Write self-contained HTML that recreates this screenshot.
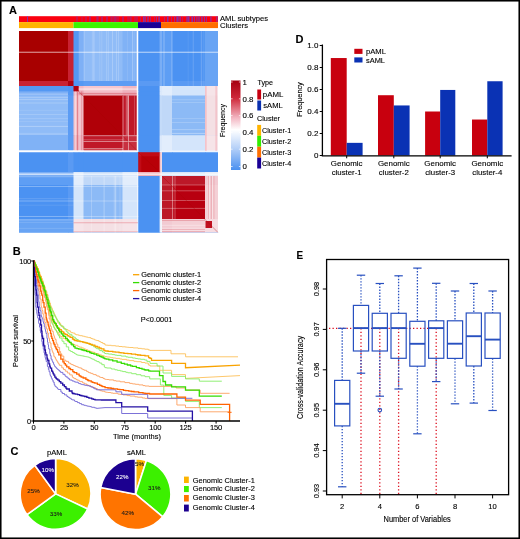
<!DOCTYPE html>
<html><head><meta charset="utf-8"><style>
html,body{margin:0;padding:0;background:#fff;}
svg{display:block;font-family:"Liberation Sans", sans-serif;will-change:transform;}
text{stroke:#000;stroke-width:0.12px;}
text[fill="#fff"]{stroke:#fff;}
</style></head><body>
<svg width="520" height="539" viewBox="0 0 520 539" font-family="'Liberation Sans', sans-serif" fill="#000">
<rect x="0" y="0" width="520" height="539" fill="#fff"/>
<rect x="19" y="31" width="199" height="201.5" fill="#4b92f2"/>
<rect x="19" y="31" width="49.60" height="50.60" fill="#a80000"/>
<rect x="68" y="31" width="6.10" height="50.60" fill="#c82232"/>
<rect x="73.5" y="31" width="5.80" height="50.60" fill="#5498f3"/>
<rect x="78.7" y="31" width="5.40" height="50.60" fill="#7eb0f6"/>
<rect x="83.5" y="31" width="39.60" height="50.60" fill="#90bcf7"/>
<rect x="122.5" y="31" width="15.10" height="50.60" fill="#80b2f6"/>
<rect x="137" y="31" width="1.90" height="50.60" fill="#f4f8fe"/>
<rect x="138.3" y="31" width="21.90" height="50.60" fill="#4b92f2"/>
<rect x="159.6" y="31" width="3.00" height="50.60" fill="#7aaef5"/>
<rect x="162" y="31" width="10.60" height="50.60" fill="#5e9ef4"/>
<rect x="172" y="31" width="33.60" height="50.60" fill="#4b92f2"/>
<rect x="205" y="31" width="13.00" height="50.60" fill="#68a4f4"/>
<rect x="19" y="81" width="49.60" height="5.60" fill="#c82232"/>
<rect x="68" y="81" width="6.10" height="5.60" fill="#b00010"/>
<rect x="73.5" y="81" width="5.80" height="5.60" fill="#5096f3"/>
<rect x="78.7" y="81" width="5.40" height="5.60" fill="#5498f3"/>
<rect x="83.5" y="81" width="39.60" height="5.60" fill="#5c9cf4"/>
<rect x="122.5" y="81" width="15.10" height="5.60" fill="#5c9cf4"/>
<rect x="137" y="81" width="1.90" height="5.60" fill="#f4f8fe"/>
<rect x="138.3" y="81" width="21.90" height="5.60" fill="#5a9af3"/>
<rect x="159.6" y="81" width="3.00" height="5.60" fill="#7aaef5"/>
<rect x="162" y="81" width="10.60" height="5.60" fill="#5e9ef4"/>
<rect x="172" y="81" width="33.60" height="5.60" fill="#5a9af3"/>
<rect x="205" y="81" width="13.00" height="5.60" fill="#68a4f4"/>
<rect x="19" y="86" width="49.60" height="6.00" fill="#5498f3"/>
<rect x="68" y="86" width="6.10" height="6.00" fill="#5096f3"/>
<rect x="73.5" y="86" width="5.80" height="6.00" fill="#b00010"/>
<rect x="78.7" y="86" width="5.40" height="6.00" fill="#f0b8c4"/>
<rect x="83.5" y="86" width="39.60" height="6.00" fill="#f5c6ce"/>
<rect x="122.5" y="86" width="15.10" height="6.00" fill="#f0b6c0"/>
<rect x="137" y="86" width="1.90" height="6.00" fill="#eef4fd"/>
<rect x="138.3" y="86" width="21.90" height="6.00" fill="#4b92f2"/>
<rect x="159.6" y="86" width="3.00" height="6.00" fill="#dce9fb"/>
<rect x="162" y="86" width="10.60" height="6.00" fill="#e2edfc"/>
<rect x="172" y="86" width="33.60" height="6.00" fill="#d4e5fb"/>
<rect x="205" y="86" width="13.00" height="6.00" fill="#f6e4e8"/>
<rect x="19" y="91.4" width="49.60" height="4.70" fill="#7eb0f6"/>
<rect x="68" y="91.4" width="6.10" height="4.70" fill="#5498f3"/>
<rect x="73.5" y="91.4" width="5.80" height="4.70" fill="#f0b8c4"/>
<rect x="78.7" y="91.4" width="5.40" height="4.70" fill="#e899a8"/>
<rect x="83.5" y="91.4" width="39.60" height="4.70" fill="#f2bcc6"/>
<rect x="122.5" y="91.4" width="15.10" height="4.70" fill="#eeaebb"/>
<rect x="137" y="91.4" width="1.90" height="4.70" fill="#eef4fd"/>
<rect x="138.3" y="91.4" width="21.90" height="4.70" fill="#4b92f2"/>
<rect x="159.6" y="91.4" width="3.00" height="4.70" fill="#dce9fb"/>
<rect x="162" y="91.4" width="10.60" height="4.70" fill="#e2edfc"/>
<rect x="172" y="91.4" width="33.60" height="4.70" fill="#d4e5fb"/>
<rect x="205" y="91.4" width="13.00" height="4.70" fill="#f6e4e8"/>
<rect x="19" y="95.5" width="49.60" height="40.30" fill="#90bcf7"/>
<rect x="68" y="95.5" width="6.10" height="40.30" fill="#5c9cf4"/>
<rect x="73.5" y="95.5" width="5.80" height="40.30" fill="#f5c6ce"/>
<rect x="78.7" y="95.5" width="5.40" height="40.30" fill="#f2bcc6"/>
<rect x="83.5" y="95.5" width="39.60" height="40.30" fill="#b00008"/>
<rect x="122.5" y="95.5" width="15.10" height="40.30" fill="#c01828"/>
<rect x="137" y="95.5" width="1.90" height="40.30" fill="#eef4fd"/>
<rect x="138.3" y="95.5" width="21.90" height="40.30" fill="#4b92f2"/>
<rect x="159.6" y="95.5" width="3.00" height="40.30" fill="#c4dbf9"/>
<rect x="162" y="95.5" width="10.60" height="40.30" fill="#c0d8f8"/>
<rect x="172" y="95.5" width="33.60" height="40.30" fill="#8cbaf6"/>
<rect x="205" y="95.5" width="13.00" height="40.30" fill="#f4e0e4"/>
<rect x="19" y="135.2" width="49.60" height="15.90" fill="#80b2f6"/>
<rect x="68" y="135.2" width="6.10" height="15.90" fill="#5c9cf4"/>
<rect x="73.5" y="135.2" width="5.80" height="15.90" fill="#f0b6c0"/>
<rect x="78.7" y="135.2" width="5.40" height="15.90" fill="#eeaebb"/>
<rect x="83.5" y="135.2" width="39.60" height="15.90" fill="#c01828"/>
<rect x="122.5" y="135.2" width="15.10" height="15.90" fill="#c83040"/>
<rect x="137" y="135.2" width="1.90" height="15.90" fill="#eef4fd"/>
<rect x="138.3" y="135.2" width="21.90" height="15.90" fill="#4b92f2"/>
<rect x="159.6" y="135.2" width="3.00" height="15.90" fill="#dce9fb"/>
<rect x="162" y="135.2" width="10.60" height="15.90" fill="#e2edfc"/>
<rect x="172" y="135.2" width="33.60" height="15.90" fill="#d4e5fb"/>
<rect x="205" y="135.2" width="13.00" height="15.90" fill="#f6e4e8"/>
<rect x="19" y="150.5" width="49.60" height="2.40" fill="#f4f8fe"/>
<rect x="68" y="150.5" width="6.10" height="2.40" fill="#f4f8fe"/>
<rect x="73.5" y="150.5" width="5.80" height="2.40" fill="#eef4fd"/>
<rect x="78.7" y="150.5" width="5.40" height="2.40" fill="#eef4fd"/>
<rect x="83.5" y="150.5" width="39.60" height="2.40" fill="#eef4fd"/>
<rect x="122.5" y="150.5" width="15.10" height="2.40" fill="#eef4fd"/>
<rect x="137" y="150.5" width="1.90" height="2.40" fill="#f6f0f4"/>
<rect x="138.3" y="150.5" width="21.90" height="2.40" fill="#4b92f2"/>
<rect x="159.6" y="150.5" width="3.00" height="2.40" fill="#eef4fd"/>
<rect x="162" y="150.5" width="10.60" height="2.40" fill="#eef4fd"/>
<rect x="172" y="150.5" width="33.60" height="2.40" fill="#eef4fd"/>
<rect x="205" y="150.5" width="13.00" height="2.40" fill="#eef4fd"/>
<rect x="19" y="152.3" width="49.60" height="20.30" fill="#4b92f2"/>
<rect x="68" y="152.3" width="6.10" height="20.30" fill="#5a9af3"/>
<rect x="73.5" y="152.3" width="5.80" height="20.30" fill="#4b92f2"/>
<rect x="78.7" y="152.3" width="5.40" height="20.30" fill="#4b92f2"/>
<rect x="83.5" y="152.3" width="39.60" height="20.30" fill="#4b92f2"/>
<rect x="122.5" y="152.3" width="15.10" height="20.30" fill="#4b92f2"/>
<rect x="137" y="152.3" width="1.90" height="20.30" fill="#4b92f2"/>
<rect x="138.3" y="152.3" width="21.90" height="20.30" fill="#b80008"/>
<rect x="159.6" y="152.3" width="3.00" height="20.30" fill="#f0b4bc"/>
<rect x="162" y="152.3" width="10.60" height="20.30" fill="#4b92f2"/>
<rect x="172" y="152.3" width="33.60" height="20.30" fill="#4b92f2"/>
<rect x="205" y="152.3" width="13.00" height="20.30" fill="#4b92f2"/>
<rect x="19" y="172" width="49.60" height="4.60" fill="#7aaef5"/>
<rect x="68" y="172" width="6.10" height="4.60" fill="#7aaef5"/>
<rect x="73.5" y="172" width="5.80" height="4.60" fill="#dce9fb"/>
<rect x="78.7" y="172" width="5.40" height="4.60" fill="#dce9fb"/>
<rect x="83.5" y="172" width="39.60" height="4.60" fill="#c4dbf9"/>
<rect x="122.5" y="172" width="15.10" height="4.60" fill="#dce9fb"/>
<rect x="137" y="172" width="1.90" height="4.60" fill="#eef4fd"/>
<rect x="138.3" y="172" width="21.90" height="4.60" fill="#f0b4bc"/>
<rect x="159.6" y="172" width="3.00" height="4.60" fill="#f4d0d8"/>
<rect x="162" y="172" width="10.60" height="4.60" fill="#d4e4fa"/>
<rect x="172" y="172" width="33.60" height="4.60" fill="#d8e8fb"/>
<rect x="205" y="172" width="13.00" height="4.60" fill="#eaeef8"/>
<rect x="19" y="176" width="49.60" height="9.60" fill="#5e9ef4"/>
<rect x="68" y="176" width="6.10" height="9.60" fill="#5e9ef4"/>
<rect x="73.5" y="176" width="5.80" height="9.60" fill="#e2edfc"/>
<rect x="78.7" y="176" width="5.40" height="9.60" fill="#e2edfc"/>
<rect x="83.5" y="176" width="39.60" height="9.60" fill="#c0d8f8"/>
<rect x="122.5" y="176" width="15.10" height="9.60" fill="#e2edfc"/>
<rect x="137" y="176" width="1.90" height="9.60" fill="#eef4fd"/>
<rect x="138.3" y="176" width="21.90" height="9.60" fill="#4b92f2"/>
<rect x="159.6" y="176" width="3.00" height="9.60" fill="#d4e4fa"/>
<rect x="162" y="176" width="10.60" height="9.60" fill="#c42636"/>
<rect x="172" y="176" width="33.60" height="9.60" fill="#bc1828"/>
<rect x="205" y="176" width="13.00" height="9.60" fill="#f2cad2"/>
<rect x="19" y="185" width="49.60" height="34.60" fill="#4b92f2"/>
<rect x="68" y="185" width="6.10" height="34.60" fill="#5a9af3"/>
<rect x="73.5" y="185" width="5.80" height="34.60" fill="#d4e5fb"/>
<rect x="78.7" y="185" width="5.40" height="34.60" fill="#d4e5fb"/>
<rect x="83.5" y="185" width="39.60" height="34.60" fill="#8cbaf6"/>
<rect x="122.5" y="185" width="15.10" height="34.60" fill="#d4e5fb"/>
<rect x="137" y="185" width="1.90" height="34.60" fill="#eef4fd"/>
<rect x="138.3" y="185" width="21.90" height="34.60" fill="#4b92f2"/>
<rect x="159.6" y="185" width="3.00" height="34.60" fill="#d8e8fb"/>
<rect x="162" y="185" width="10.60" height="34.60" fill="#bc1828"/>
<rect x="172" y="185" width="33.60" height="34.60" fill="#b80010"/>
<rect x="205" y="185" width="13.00" height="34.60" fill="#f4d0d6"/>
<rect x="19" y="219" width="49.60" height="13.50" fill="#68a4f4"/>
<rect x="68" y="219" width="6.10" height="13.50" fill="#68a4f4"/>
<rect x="73.5" y="219" width="5.80" height="13.50" fill="#f6e4e8"/>
<rect x="78.7" y="219" width="5.40" height="13.50" fill="#f6e4e8"/>
<rect x="83.5" y="219" width="39.60" height="13.50" fill="#f4e0e4"/>
<rect x="122.5" y="219" width="15.10" height="13.50" fill="#f6e4e8"/>
<rect x="137" y="219" width="1.90" height="13.50" fill="#eef4fd"/>
<rect x="138.3" y="219" width="21.90" height="13.50" fill="#4b92f2"/>
<rect x="159.6" y="219" width="3.00" height="13.50" fill="#eaeef8"/>
<rect x="162" y="219" width="10.60" height="13.50" fill="#f2cad2"/>
<rect x="172" y="219" width="33.60" height="13.50" fill="#f4d0d6"/>
<rect x="205" y="219" width="13.00" height="13.50" fill="#f6dce1"/>
<rect x="101.6" y="31" width="0.6" height="50.0" fill="#ffffff" fill-opacity="0.23"/>
<rect x="91.9" y="31" width="0.6" height="50.0" fill="#ffffff" fill-opacity="0.26"/>
<rect x="93.1" y="31" width="0.8" height="50.0" fill="#ffffff" fill-opacity="0.22"/>
<rect x="118.2" y="31" width="0.6" height="50.0" fill="#ffffff" fill-opacity="0.29"/>
<rect x="106.4" y="31" width="0.8" height="50.0" fill="#ffffff" fill-opacity="0.25"/>
<rect x="112.0" y="31" width="0.8" height="50.0" fill="#ffffff" fill-opacity="0.27"/>
<rect x="127.2" y="31" width="0.6" height="50.0" fill="#ffffff" fill-opacity="0.15"/>
<rect x="116.0" y="31" width="1.0" height="50.0" fill="#ffffff" fill-opacity="0.18"/>
<rect x="132.0" y="31" width="1.0" height="50.0" fill="#ffffff" fill-opacity="0.24"/>
<rect x="83.9" y="31" width="0.8" height="50.0" fill="#ffffff" fill-opacity="0.19"/>
<rect x="94.1" y="31" width="0.6" height="50.0" fill="#ffffff" fill-opacity="0.20"/>
<rect x="99.3" y="31" width="1.0" height="50.0" fill="#ffffff" fill-opacity="0.13"/>
<rect x="108.0" y="31" width="0.6" height="50.0" fill="#ffffff" fill-opacity="0.23"/>
<rect x="133.7" y="31" width="0.8" height="50.0" fill="#ffffff" fill-opacity="0.14"/>
<rect x="19" y="132.9" width="49.0" height="1.0" fill="#ffffff" fill-opacity="0.15"/>
<rect x="19" y="125.9" width="49.0" height="1.0" fill="#ffffff" fill-opacity="0.29"/>
<rect x="19" y="99.1" width="49.0" height="1.0" fill="#ffffff" fill-opacity="0.24"/>
<rect x="19" y="93.0" width="49.0" height="0.6" fill="#ffffff" fill-opacity="0.15"/>
<rect x="19" y="121.2" width="49.0" height="0.8" fill="#ffffff" fill-opacity="0.13"/>
<rect x="19" y="109.9" width="49.0" height="0.6" fill="#ffffff" fill-opacity="0.15"/>
<rect x="19" y="118.3" width="49.0" height="0.8" fill="#ffffff" fill-opacity="0.18"/>
<rect x="19" y="114.2" width="49.0" height="0.6" fill="#ffffff" fill-opacity="0.28"/>
<rect x="19" y="133.9" width="49.0" height="1.0" fill="#ffffff" fill-opacity="0.16"/>
<rect x="19" y="102.6" width="49.0" height="0.8" fill="#ffffff" fill-opacity="0.27"/>
<rect x="19" y="96.9" width="49.0" height="1.0" fill="#ffffff" fill-opacity="0.21"/>
<rect x="19" y="93.8" width="49.0" height="1.0" fill="#ffffff" fill-opacity="0.28"/>
<rect x="79.4" y="91.4" width="1.0" height="59.1" fill="#ffffff" fill-opacity="0.33"/>
<rect x="82.5" y="91.4" width="0.6" height="59.1" fill="#ffffff" fill-opacity="0.32"/>
<rect x="75.3" y="91.4" width="0.6" height="59.1" fill="#ffffff" fill-opacity="0.50"/>
<rect x="77.7" y="91.4" width="0.6" height="59.1" fill="#ffffff" fill-opacity="0.48"/>
<rect x="76.9" y="91.4" width="0.8" height="59.1" fill="#d03040" fill-opacity="0.46"/>
<rect x="81.6" y="91.4" width="0.6" height="59.1" fill="#d03040" fill-opacity="0.47"/>
<rect x="77.3" y="91.4" width="1.0" height="59.1" fill="#d03040" fill-opacity="0.31"/>
<rect x="78.7" y="88.4" width="58.3" height="1.0" fill="#ffffff" fill-opacity="0.47"/>
<rect x="78.7" y="88.9" width="58.3" height="0.8" fill="#ffffff" fill-opacity="0.38"/>
<rect x="78.7" y="93.0" width="58.3" height="0.8" fill="#ffffff" fill-opacity="0.38"/>
<rect x="78.7" y="92.9" width="58.3" height="1.0" fill="#d03040" fill-opacity="0.32"/>
<rect x="78.7" y="93.5" width="58.3" height="0.8" fill="#d03040" fill-opacity="0.44"/>
<rect x="128.2" y="95.5" width="0.8" height="39.5" fill="#ffffff" fill-opacity="0.25"/>
<rect x="134.1" y="95.5" width="0.6" height="39.5" fill="#ffffff" fill-opacity="0.33"/>
<rect x="127.0" y="95.5" width="1.0" height="39.5" fill="#ffffff" fill-opacity="0.34"/>
<rect x="125.8" y="95.5" width="1.0" height="39.5" fill="#ffffff" fill-opacity="0.33"/>
<rect x="83.5" y="139.4" width="39.5" height="0.8" fill="#ffffff" fill-opacity="0.29"/>
<rect x="83.5" y="148.9" width="39.5" height="0.8" fill="#ffffff" fill-opacity="0.28"/>
<rect x="83.5" y="148.3" width="39.5" height="0.6" fill="#ffffff" fill-opacity="0.30"/>
<rect x="83.5" y="148.2" width="39.5" height="0.8" fill="#ffffff" fill-opacity="0.36"/>
<rect x="211.9" y="176" width="0.8" height="43.0" fill="#ffffff" fill-opacity="0.39"/>
<rect x="209.2" y="176" width="1.0" height="43.0" fill="#ffffff" fill-opacity="0.47"/>
<rect x="207.8" y="176" width="0.8" height="43.0" fill="#ffffff" fill-opacity="0.44"/>
<rect x="212.6" y="176" width="1.0" height="43.0" fill="#ffffff" fill-opacity="0.43"/>
<rect x="210.8" y="176" width="0.8" height="43.0" fill="#d03040" fill-opacity="0.32"/>
<rect x="208.2" y="176" width="0.6" height="43.0" fill="#d03040" fill-opacity="0.38"/>
<rect x="213.6" y="176" width="0.6" height="43.0" fill="#d03040" fill-opacity="0.43"/>
<rect x="162" y="227.7" width="43.0" height="1.0" fill="#ffffff" fill-opacity="0.35"/>
<rect x="162" y="224.8" width="43.0" height="1.0" fill="#ffffff" fill-opacity="0.35"/>
<rect x="162" y="229.9" width="43.0" height="0.8" fill="#ffffff" fill-opacity="0.43"/>
<rect x="162" y="220.0" width="43.0" height="1.0" fill="#ffffff" fill-opacity="0.41"/>
<rect x="162" y="220.0" width="43.0" height="0.8" fill="#d03040" fill-opacity="0.44"/>
<rect x="162" y="231.3" width="43.0" height="0.6" fill="#d03040" fill-opacity="0.35"/>
<rect x="162" y="229.3" width="43.0" height="0.6" fill="#d03040" fill-opacity="0.30"/>
<rect x="115.5" y="176" width="0.8" height="56.5" fill="#ffffff" fill-opacity="0.24"/>
<rect x="103.6" y="176" width="1.0" height="56.5" fill="#ffffff" fill-opacity="0.30"/>
<rect x="114.7" y="176" width="1.0" height="56.5" fill="#ffffff" fill-opacity="0.30"/>
<rect x="91.4" y="176" width="0.6" height="56.5" fill="#ffffff" fill-opacity="0.35"/>
<rect x="113.8" y="176" width="0.6" height="56.5" fill="#ffffff" fill-opacity="0.27"/>
<rect x="119.6" y="176" width="0.8" height="56.5" fill="#ffffff" fill-opacity="0.21"/>
<rect x="172" y="132.9" width="33.0" height="1.0" fill="#ffffff" fill-opacity="0.34"/>
<rect x="172" y="118.1" width="33.0" height="0.8" fill="#ffffff" fill-opacity="0.19"/>
<rect x="172" y="99.4" width="33.0" height="0.8" fill="#ffffff" fill-opacity="0.23"/>
<rect x="172" y="102.1" width="33.0" height="0.8" fill="#ffffff" fill-opacity="0.22"/>
<rect x="172" y="129.3" width="33.0" height="0.8" fill="#ffffff" fill-opacity="0.32"/>
<rect x="172" y="122.2" width="33.0" height="0.8" fill="#ffffff" fill-opacity="0.23"/>
<rect x="73.5" y="231.0" width="64.5" height="0.6" fill="#e04050" fill-opacity="0.37"/>
<rect x="73.5" y="222.4" width="64.5" height="0.8" fill="#e04050" fill-opacity="0.41"/>
<rect x="200.7" y="31" width="0.8" height="55.0" fill="#ffffff" fill-opacity="0.13"/>
<rect x="201.4" y="31" width="0.8" height="55.0" fill="#ffffff" fill-opacity="0.19"/>
<rect x="192.8" y="31" width="0.8" height="55.0" fill="#ffffff" fill-opacity="0.20"/>
<rect x="203.4" y="31" width="1.0" height="55.0" fill="#ffffff" fill-opacity="0.14"/>
<rect x="187.8" y="31" width="0.6" height="55.0" fill="#ffffff" fill-opacity="0.12"/>
<rect x="19" y="222.2" width="54.5" height="0.6" fill="#ffffff" fill-opacity="0.20"/>
<rect x="19" y="219.4" width="54.5" height="1.0" fill="#ffffff" fill-opacity="0.25"/>
<rect x="19" y="198.5" width="54.5" height="0.6" fill="#ffffff" fill-opacity="0.24"/>
<rect x="19" y="204.8" width="54.5" height="0.6" fill="#ffffff" fill-opacity="0.17"/>
<rect x="19" y="227.9" width="54.5" height="0.8" fill="#ffffff" fill-opacity="0.16"/>
<rect x="138.3" y="152.3" width="21.3" height="4" fill="#d02030" fill-opacity="0.35"/>
<rect x="138.3" y="152.3" width="3" height="19.7" fill="#d02030" fill-opacity="0.35"/>
<rect x="205.5" y="221" width="6.5" height="7" fill="#c01020"/>
<rect x="122.5" y="95.5" width="1.0" height="55.0" fill="#ffffff" fill-opacity="0.45"/>
<rect x="128" y="95.5" width="1.0" height="55.0" fill="#ffffff" fill-opacity="0.45"/>
<rect x="83.5" y="135.2" width="53.5" height="1.0" fill="#ffffff" fill-opacity="0.45"/>
<rect x="83.5" y="141" width="53.5" height="1.0" fill="#ffffff" fill-opacity="0.45"/>
<rect x="172" y="176" width="1.2" height="43" fill="#ffffff" fill-opacity="0.45"/>
<rect x="174.5" y="176" width="1.0" height="43" fill="#ffffff" fill-opacity="0.3"/>
<rect x="162" y="184.5" width="43" height="1.0" fill="#ffffff" fill-opacity="0.3"/>
<rect x="162" y="190.3" width="43" height="1.0" fill="#ffffff" fill-opacity="0.3"/>
<rect x="162" y="200" width="43" height="1.0" fill="#ffffff" fill-opacity="0.3"/>
<rect x="162" y="207.9" width="43" height="1.0" fill="#ffffff" fill-opacity="0.3"/>
<rect x="163.5" y="31" width="1.0" height="55" fill="#ffffff" fill-opacity="0.3"/>
<rect x="171.5" y="31" width="1.0" height="55" fill="#ffffff" fill-opacity="0.3"/>
<rect x="19" y="176.2" width="119.30000000000001" height="1.0" fill="#ffffff" fill-opacity="0.3"/>
<rect x="19" y="186" width="119.30000000000001" height="1.0" fill="#ffffff" fill-opacity="0.3"/>
<rect x="19" y="200.5" width="119.30000000000001" height="1.0" fill="#ffffff" fill-opacity="0.3"/>
<rect x="19" y="216" width="119.30000000000001" height="1.0" fill="#ffffff" fill-opacity="0.3"/>
<rect x="136.7" y="31" width="1.3" height="119.5" fill="#ffffff" fill-opacity="0.85"/>
<rect x="19" y="150.4" width="119.30000000000001" height="1.4" fill="#ffffff" fill-opacity="0.8"/>
<rect x="160.6" y="152.3" width="1.3" height="80.19999999999999" fill="#ffffff" fill-opacity="0.55"/>
<rect x="19" y="173.4" width="199" height="1.6" fill="#ffffff" fill-opacity="0.6"/>
<rect x="19" y="51.7" width="199" height="1.1" fill="#ffffff" fill-opacity="0.6"/>
<rect x="205.3" y="86" width="1.2" height="65" fill="#f06070" fill-opacity="0.35"/>
<rect x="215.5" y="86" width="1.2" height="65" fill="#f06070" fill-opacity="0.3"/>
<line x1="73.6" y1="86.2" x2="136.8" y2="150.4" stroke="#a80000" stroke-width="0.9" stroke-opacity="0.4"/>
<line x1="162.2" y1="176.2" x2="217.8" y2="232.3" stroke="#a80000" stroke-width="0.9" stroke-opacity="0.4"/>
<line x1="138.4" y1="152.4" x2="159.5" y2="171.9" stroke="#a80000" stroke-width="0.8" stroke-opacity="0.5"/>
<rect x="19.00" y="16.20" width="199.00" height="5.90" fill="#fa0010"/>
<rect x="27.00" y="16.20" width="1.00" height="5.90" fill="#5a40e0" fill-opacity="0.7"/>
<rect x="76.50" y="16.20" width="1.00" height="5.90" fill="#5a40e0" fill-opacity="0.55"/>
<rect x="81.50" y="16.20" width="1.00" height="5.90" fill="#5a40e0" fill-opacity="0.35"/>
<rect x="85.50" y="16.20" width="1.00" height="5.90" fill="#5a40e0" fill-opacity="0.55"/>
<rect x="89.50" y="16.20" width="1.00" height="5.90" fill="#5a40e0" fill-opacity="0.7"/>
<rect x="96.50" y="16.20" width="1.00" height="5.90" fill="#5a40e0" fill-opacity="0.55"/>
<rect x="97.50" y="16.20" width="1.00" height="5.90" fill="#5a40e0" fill-opacity="0.45"/>
<rect x="101.50" y="16.20" width="1.00" height="5.90" fill="#5a40e0" fill-opacity="0.7"/>
<rect x="106.50" y="16.20" width="1.00" height="5.90" fill="#5a40e0" fill-opacity="0.7"/>
<rect x="110.50" y="16.20" width="1.00" height="5.90" fill="#5a40e0" fill-opacity="0.35"/>
<rect x="111.50" y="16.20" width="1.00" height="5.90" fill="#5a40e0" fill-opacity="0.45"/>
<rect x="113.50" y="16.20" width="1.00" height="5.90" fill="#5a40e0" fill-opacity="0.45"/>
<rect x="114.50" y="16.20" width="1.00" height="5.90" fill="#5a40e0" fill-opacity="0.35"/>
<rect x="115.50" y="16.20" width="1.00" height="5.90" fill="#5a40e0" fill-opacity="0.55"/>
<rect x="117.50" y="16.20" width="1.00" height="5.90" fill="#5a40e0" fill-opacity="0.45"/>
<rect x="122.50" y="16.20" width="1.00" height="5.90" fill="#5a40e0" fill-opacity="0.7"/>
<rect x="127.50" y="16.20" width="1.00" height="5.90" fill="#5a40e0" fill-opacity="0.45"/>
<rect x="129.50" y="16.20" width="1.00" height="5.90" fill="#5a40e0" fill-opacity="0.35"/>
<rect x="130.50" y="16.20" width="1.00" height="5.90" fill="#5a40e0" fill-opacity="0.45"/>
<rect x="134.50" y="16.20" width="1.00" height="5.90" fill="#5a40e0" fill-opacity="0.45"/>
<rect x="136.50" y="16.20" width="1.00" height="5.90" fill="#5a40e0" fill-opacity="0.55"/>
<rect x="140.00" y="16.20" width="1.00" height="5.90" fill="#5a40e0" fill-opacity="0.35"/>
<rect x="143.00" y="16.20" width="1.00" height="5.90" fill="#5a40e0" fill-opacity="0.7"/>
<rect x="144.00" y="16.20" width="1.00" height="5.90" fill="#5a40e0" fill-opacity="0.45"/>
<rect x="145.00" y="16.20" width="1.00" height="5.90" fill="#5a40e0" fill-opacity="0.55"/>
<rect x="147.00" y="16.20" width="1.00" height="5.90" fill="#5a40e0" fill-opacity="0.45"/>
<rect x="148.00" y="16.20" width="1.00" height="5.90" fill="#5a40e0" fill-opacity="0.45"/>
<rect x="150.00" y="16.20" width="1.00" height="5.90" fill="#5a40e0" fill-opacity="0.45"/>
<rect x="154.00" y="16.20" width="1.00" height="5.90" fill="#5a40e0" fill-opacity="0.35"/>
<rect x="156.00" y="16.20" width="1.00" height="5.90" fill="#5a40e0" fill-opacity="0.55"/>
<rect x="158.00" y="16.20" width="1.00" height="5.90" fill="#5a40e0" fill-opacity="0.45"/>
<rect x="159.00" y="16.20" width="1.00" height="5.90" fill="#5a40e0" fill-opacity="0.55"/>
<rect x="164.00" y="16.20" width="1.00" height="5.90" fill="#5a40e0" fill-opacity="0.45"/>
<rect x="167.00" y="16.20" width="1.00" height="5.90" fill="#5a40e0" fill-opacity="0.7"/>
<rect x="168.00" y="16.20" width="1.00" height="5.90" fill="#5a40e0" fill-opacity="0.35"/>
<rect x="171.00" y="16.20" width="1.00" height="5.90" fill="#5a40e0" fill-opacity="0.45"/>
<rect x="174.00" y="16.20" width="1.00" height="5.90" fill="#5a40e0" fill-opacity="0.55"/>
<rect x="176.00" y="16.20" width="1.00" height="5.90" fill="#5a40e0" fill-opacity="0.45"/>
<rect x="177.00" y="16.20" width="1.00" height="5.90" fill="#5a40e0" fill-opacity="0.7"/>
<rect x="178.00" y="16.20" width="1.00" height="5.90" fill="#5a40e0" fill-opacity="0.45"/>
<rect x="179.00" y="16.20" width="1.00" height="5.90" fill="#5a40e0" fill-opacity="0.35"/>
<rect x="180.00" y="16.20" width="1.00" height="5.90" fill="#5a40e0" fill-opacity="0.55"/>
<rect x="182.00" y="16.20" width="1.00" height="5.90" fill="#5a40e0" fill-opacity="0.35"/>
<rect x="186.00" y="16.20" width="1.00" height="5.90" fill="#5a40e0" fill-opacity="0.45"/>
<rect x="187.00" y="16.20" width="1.00" height="5.90" fill="#5a40e0" fill-opacity="0.55"/>
<rect x="188.00" y="16.20" width="1.00" height="5.90" fill="#5a40e0" fill-opacity="0.7"/>
<rect x="189.00" y="16.20" width="1.00" height="5.90" fill="#5a40e0" fill-opacity="0.35"/>
<rect x="191.00" y="16.20" width="1.00" height="5.90" fill="#5a40e0" fill-opacity="0.45"/>
<rect x="192.00" y="16.20" width="1.00" height="5.90" fill="#5a40e0" fill-opacity="0.7"/>
<rect x="194.00" y="16.20" width="1.00" height="5.90" fill="#5a40e0" fill-opacity="0.7"/>
<rect x="196.00" y="16.20" width="1.00" height="5.90" fill="#5a40e0" fill-opacity="0.45"/>
<rect x="197.00" y="16.20" width="1.00" height="5.90" fill="#5a40e0" fill-opacity="0.35"/>
<rect x="198.00" y="16.20" width="1.00" height="5.90" fill="#5a40e0" fill-opacity="0.45"/>
<rect x="199.00" y="16.20" width="1.00" height="5.90" fill="#5a40e0" fill-opacity="0.45"/>
<rect x="201.00" y="16.20" width="1.00" height="5.90" fill="#5a40e0" fill-opacity="0.55"/>
<rect x="202.00" y="16.20" width="1.00" height="5.90" fill="#5a40e0" fill-opacity="0.45"/>
<rect x="204.00" y="16.20" width="1.00" height="5.90" fill="#5a40e0" fill-opacity="0.7"/>
<rect x="206.00" y="16.20" width="1.00" height="5.90" fill="#5a40e0" fill-opacity="0.55"/>
<rect x="210.00" y="16.20" width="1.00" height="5.90" fill="#5a40e0" fill-opacity="0.45"/>
<rect x="211.00" y="16.20" width="1.00" height="5.90" fill="#5a40e0" fill-opacity="0.35"/>
<rect x="216.00" y="16.20" width="1.00" height="5.90" fill="#5a40e0" fill-opacity="0.45"/>
<rect x="217.00" y="16.20" width="1.00" height="5.90" fill="#5a40e0" fill-opacity="0.35"/>
<rect x="19.00" y="22.10" width="54.50" height="6.00" fill="#ffb400"/>
<rect x="73.50" y="22.10" width="64.50" height="6.00" fill="#3cf500"/>
<rect x="138.00" y="22.10" width="23.00" height="6.00" fill="#1a0096"/>
<rect x="161.00" y="22.10" width="57.00" height="6.00" fill="#ff6e00"/>
<text x="220" y="21.3" font-size="7.9" textLength="48" lengthAdjust="spacingAndGlyphs">AML subtypes</text>
<text x="220" y="28.3" font-size="7.9" textLength="28" lengthAdjust="spacingAndGlyphs">Clusters</text>
<defs><linearGradient id="cb" x1="0" y1="0" x2="0" y2="1"><stop offset="0" stop-color="#a50010"/><stop offset="0.2" stop-color="#cf2a3c"/><stop offset="0.42" stop-color="#f3b8c4"/><stop offset="0.55" stop-color="#ffffff"/><stop offset="0.75" stop-color="#b8d2f8"/><stop offset="1" stop-color="#4a90f0"/></linearGradient></defs>
<rect x="231.00" y="80.50" width="9.50" height="89.50" fill="url(#cb)"/>
<text x="242.5" y="84.8" font-size="7.9">1</text>
<line x1="231" y1="82.0" x2="232.6" y2="82.0" stroke="#fff" stroke-width="0.7"/>
<line x1="238.9" y1="82.0" x2="240.5" y2="82.0" stroke="#fff" stroke-width="0.7"/>
<text x="242.5" y="101.6" font-size="7.9">0.8</text>
<line x1="231" y1="98.8" x2="232.6" y2="98.8" stroke="#fff" stroke-width="0.7"/>
<line x1="238.9" y1="98.8" x2="240.5" y2="98.8" stroke="#fff" stroke-width="0.7"/>
<text x="242.5" y="118.4" font-size="7.9">0.6</text>
<line x1="231" y1="115.6" x2="232.6" y2="115.6" stroke="#fff" stroke-width="0.7"/>
<line x1="238.9" y1="115.6" x2="240.5" y2="115.6" stroke="#fff" stroke-width="0.7"/>
<text x="242.5" y="135.2" font-size="7.9">0.4</text>
<line x1="231" y1="132.4" x2="232.6" y2="132.4" stroke="#fff" stroke-width="0.7"/>
<line x1="238.9" y1="132.4" x2="240.5" y2="132.4" stroke="#fff" stroke-width="0.7"/>
<text x="242.5" y="152.0" font-size="7.9">0.2</text>
<line x1="231" y1="149.2" x2="232.6" y2="149.2" stroke="#fff" stroke-width="0.7"/>
<line x1="238.9" y1="149.2" x2="240.5" y2="149.2" stroke="#fff" stroke-width="0.7"/>
<text x="242.5" y="169.3" font-size="7.9">0</text>
<line x1="231" y1="166.5" x2="232.6" y2="166.5" stroke="#fff" stroke-width="0.7"/>
<line x1="238.9" y1="166.5" x2="240.5" y2="166.5" stroke="#fff" stroke-width="0.7"/>
<text transform="translate(224.6,120.6) rotate(-90)" text-anchor="middle" font-size="8" textLength="33" lengthAdjust="spacingAndGlyphs">Frequency</text>
<text x="257.5" y="85.3" font-size="7.9" textLength="15.5" lengthAdjust="spacingAndGlyphs">Type</text>
<rect x="257.30" y="89.50" width="3.80" height="10.00" fill="#c80010"/>
<rect x="257.30" y="100.50" width="3.80" height="10.00" fill="#0a30b0"/>
<text x="262.8" y="97" font-size="7.9" textLength="20.5" lengthAdjust="spacingAndGlyphs">pAML</text>
<text x="263.3" y="108" font-size="7.9" textLength="19.5" lengthAdjust="spacingAndGlyphs">sAML</text>
<text x="257" y="120.8" font-size="7.9" textLength="23" lengthAdjust="spacingAndGlyphs">Cluster</text>
<rect x="257.20" y="124.90" width="3.90" height="10.90" fill="#ffb400"/>
<text x="262" y="132.9" font-size="7.9" textLength="29.3" lengthAdjust="spacingAndGlyphs">Cluster-1</text>
<rect x="257.20" y="135.80" width="3.90" height="10.90" fill="#33ee00"/>
<text x="262" y="143.8" font-size="7.9" textLength="29.3" lengthAdjust="spacingAndGlyphs">Cluster-2</text>
<rect x="257.20" y="146.70" width="3.90" height="10.90" fill="#ff6e00"/>
<text x="262" y="154.7" font-size="7.9" textLength="29.3" lengthAdjust="spacingAndGlyphs">Cluster-3</text>
<rect x="257.20" y="157.60" width="3.90" height="10.90" fill="#1a0096"/>
<text x="262" y="165.6" font-size="7.9" textLength="29.3" lengthAdjust="spacingAndGlyphs">Cluster-4</text>
<text x="9" y="13.7" font-size="11" font-weight="bold">A</text>
<text x="12.8" y="255.2" font-size="11" font-weight="bold">B</text>
<text x="10.6" y="454.5" font-size="11" font-weight="bold">C</text>
<text x="295.6" y="43.1" font-size="11" font-weight="bold">D</text>
<text x="296.5" y="259.1" font-size="11" font-weight="bold" textLength="6.6" lengthAdjust="spacingAndGlyphs">E</text>
<path d="M33.5,261.0 L34.0,261.0 L34.0,261.9 L35.1,261.9 L35.1,264.1 L35.9,264.1 L35.9,265.8 L36.5,265.8 L36.5,267.1 L37.3,267.1 L37.3,268.8 L38.1,268.8 L38.1,270.4 L39.0,270.4 L39.0,272.5 L39.6,272.5 L39.6,273.8 L40.0,273.8 L40.0,275.0 L40.4,275.0 L40.4,276.0 L41.5,276.0 L41.5,278.8 L42.2,278.8 L42.2,280.8 L43.2,280.8 L43.2,283.4 L43.6,283.4 L43.6,284.5 L44.3,284.5 L44.3,286.8 L45.3,286.8 L45.3,289.8 L45.9,289.8 L45.9,291.5 L46.9,291.5 L46.9,294.6 L48.0,294.6 L48.0,298.1 L48.4,298.1 L48.4,299.3 L48.8,299.3 L48.8,300.5 L49.6,300.5 L49.6,303.0 L50.5,303.0 L50.5,305.8 L51.2,305.8 L51.2,307.4 L51.8,307.4 L51.8,308.6 L52.5,308.6 L52.5,310.2 L52.9,310.2 L52.9,311.1 L53.4,311.1 L53.4,312.4 L54.2,312.4 L54.2,314.0 L54.8,314.0 L54.8,315.4 L55.4,315.4 L55.4,316.7 L55.9,316.7 L55.9,318.0 L56.5,318.0 L56.5,319.3 L57.2,319.3 L57.2,321.0 L57.8,321.0 L57.8,322.4 L58.2,322.4 L58.2,323.2 L60.6,323.2 L60.6,325.5 L62.4,325.5 L62.4,327.3 L64.2,327.3 L64.2,329.0 L65.3,329.0 L65.3,329.5 L67.9,329.5 L67.9,330.8 L70.3,330.8 L70.3,332.0 L71.3,332.0 L71.3,332.5 L72.7,332.5 L72.7,333.1 L74.8,333.1 L74.8,334.2 L76.0,334.2 L76.0,334.8 L78.5,334.8 L78.5,335.3 L80.1,335.3 L80.1,335.7 L82.4,335.7 L82.4,336.2 L84.5,336.2 L84.5,336.7 L85.8,336.7 L85.8,337.0 L87.7,337.0 L87.7,337.4 L88.5,337.4 L88.5,337.6 L90.9,337.6 L90.9,338.5 L92.6,338.5 L92.6,339.1 L94.5,339.1 L94.5,339.8 L95.3,339.8 L95.3,340.1 L96.5,340.1 L96.5,340.5 L98.8,340.5 L98.8,341.4 L99.9,341.4 L99.9,341.8 L101.0,341.8 L101.0,342.5 L102.8,342.5 L102.8,343.6 L104.9,343.6 L104.9,344.9 L105.0,344.9 L105.0,345.0 L106.5,345.0 L106.5,345.2 L108.0,345.2 L108.0,345.3 L111.4,345.3 L111.4,345.7 L115.6,345.7 L115.6,346.1 L119.0,346.1 L119.0,346.5 L122.0,346.5 L122.0,346.8 L125.4,346.8 L125.4,347.1 L127.3,347.1 L127.3,347.3 L129.2,347.3 L129.2,347.5 L133.2,347.5 L133.2,347.9 L138.0,347.9 L138.0,348.4 L141.6,348.4 L141.6,348.8 L144.7,348.8 L144.7,349.1 L145.0,349.1 L145.0,349.2 L148.3,349.2 L148.3,350.0 L150.0,350.0 L150.0,350.4 L170.8,350.4 L171.0,350.4 L171.0,353.8 L185.4,353.8 L185.6,353.8 L185.6,356.8 L238.0,356.8" fill="none" stroke="#fdc15a" stroke-width="0.9"/>
<path d="M33.5,261.0 L34.7,261.0 L34.7,264.1 L35.9,264.1 L35.9,267.2 L35.9,267.2 L35.9,267.4 L36.4,267.4 L36.4,268.6 L37.4,268.6 L37.4,271.4 L38.4,271.4 L38.4,274.0 L39.4,274.0 L39.4,276.5 L39.6,276.5 L39.6,277.0 L40.5,277.0 L40.5,280.1 L41.3,280.1 L41.3,283.2 L42.2,283.2 L42.2,286.2 L42.7,286.2 L42.7,288.0 L43.2,288.0 L43.2,289.8 L43.9,289.8 L43.9,292.6 L44.9,292.6 L44.9,296.4 L46.1,296.4 L46.1,301.2 L46.9,301.2 L46.9,304.2 L47.7,304.2 L47.7,307.5 L48.5,307.5 L48.5,310.4 L49.1,310.4 L49.1,312.7 L49.4,312.7 L49.4,314.3 L49.8,314.3 L49.8,315.8 L50.5,315.8 L50.5,318.6 L51.2,318.6 L51.2,320.3 L51.9,320.3 L51.9,322.1 L53.0,322.1 L53.0,325.0 L53.8,325.0 L53.8,327.2 L54.2,327.2 L54.2,328.2 L54.8,328.2 L54.8,329.0 L55.1,329.0 L55.1,329.5 L55.8,329.5 L55.8,330.4 L56.3,330.4 L56.3,331.1 L57.1,331.1 L57.1,332.2 L58.3,332.2 L58.3,333.9 L59.5,333.9 L59.5,335.7 L60.6,335.7 L60.6,336.5 L63.1,336.5 L63.1,338.4 L65.4,338.4 L65.4,340.1 L67.5,340.1 L67.5,341.7 L69.2,341.7 L69.2,342.9 L71.4,342.9 L71.4,343.8 L73.6,343.8 L73.6,344.7 L75.1,344.7 L75.1,345.3 L77.7,345.3 L77.7,346.3 L78.8,346.3 L78.8,346.8 L79.8,346.8 L79.8,347.2 L82.0,347.2 L82.0,348.1 L84.1,348.1 L84.1,349.0 L85.8,349.0 L85.8,349.6 L87.5,349.6 L87.5,350.4 L89.2,350.4 L89.2,351.0 L90.5,351.0 L90.5,351.6 L92.2,351.6 L92.2,352.2 L94.5,352.2 L94.5,353.0 L95.9,353.0 L95.9,353.5 L98.4,353.5 L98.4,354.4 L99.9,354.4 L99.9,354.9 L101.6,354.9 L101.6,355.5 L103.4,355.5 L103.4,356.1 L105.0,356.1 L105.0,356.7 L107.1,356.7 L107.1,357.0 L110.4,357.0 L110.4,357.6 L112.9,357.6 L112.9,358.0 L115.8,358.0 L115.8,358.4 L119.7,358.4 L119.7,359.0 L122.0,359.0 L122.0,359.4 L126.6,359.4 L126.6,360.1 L129.3,360.1 L129.3,360.6 L133.9,360.6 L133.9,361.3 L136.6,361.3 L136.6,361.7 L141.4,361.7 L141.4,362.5 L145.0,362.5 L145.0,363.1 L148.3,363.1 L148.3,365.0 L150.0,365.0 L150.0,366.0 L159.6,366.0 L159.8,366.0 L159.8,370.3 L171.4,370.3 L171.6,370.3 L171.6,374.6 L185.3,374.6 L185.5,374.6 L185.5,378.4 L240.0,375.6" fill="none" stroke="#fdc15a" stroke-width="0.9"/>
<path d="M33.5,261.0 L34.1,261.0 L34.1,262.4 L34.9,262.4 L34.9,264.3 L35.6,264.3 L35.6,266.0 L36.2,266.0 L36.2,267.4 L37.1,267.4 L37.1,269.7 L37.5,269.7 L37.5,270.8 L37.9,270.8 L37.9,271.7 L39.0,271.7 L39.0,274.5 L39.5,274.5 L39.5,275.9 L39.8,275.9 L39.8,276.7 L41.0,276.7 L41.0,279.7 L41.8,279.7 L41.8,281.6 L42.9,281.6 L42.9,284.3 L43.5,284.3 L43.5,285.8 L44.4,285.8 L44.4,288.5 L44.9,288.5 L44.9,289.9 L45.8,289.9 L45.8,292.6 L46.6,292.6 L46.6,295.1 L47.5,295.1 L47.5,297.8 L48.5,297.8 L48.5,301.1 L49.4,301.1 L49.4,304.2 L49.8,304.2 L49.8,305.6 L50.3,305.6 L50.3,307.2 L51.2,307.2 L51.2,309.0 L51.8,309.0 L51.8,310.3 L52.2,310.3 L52.2,311.1 L53.3,311.1 L53.3,313.3 L54.0,313.3 L54.0,314.8 L54.8,314.8 L54.8,316.4 L55.9,316.4 L55.9,318.3 L56.9,318.3 L56.9,320.0 L58.0,320.0 L58.0,322.0 L59.5,322.0 L59.5,324.7 L59.5,324.7 L59.5,324.7 L61.1,324.7 L61.1,326.3 L63.7,326.3 L63.7,328.8 L66.1,328.8 L66.1,331.3 L67.1,331.3 L67.1,332.2 L68.0,332.2 L68.0,333.2 L69.2,333.2 L69.2,334.3 L71.8,334.3 L71.8,336.1 L73.3,336.1 L73.3,337.2 L75.3,337.2 L75.3,338.6 L76.6,338.6 L76.6,339.5 L78.3,339.5 L78.3,340.7 L78.8,340.7 L78.8,341.0 L80.2,341.0 L80.2,341.4 L82.1,341.4 L82.1,342.0 L83.9,342.0 L83.9,342.5 L86.4,342.5 L86.4,343.3 L88.5,343.3 L88.5,343.9 L88.5,343.9 L88.5,343.9 L90.9,343.9 L90.9,345.3 L93.6,345.3 L93.6,346.9 L95.6,346.9 L95.6,348.0 L96.7,348.0 L96.7,348.7 L99.1,348.7 L99.1,350.1 L99.9,350.1 L99.9,350.6 L102.4,350.6 L102.4,352.0 L104.3,352.0 L104.3,353.1 L105.0,353.1 L105.0,353.5 L106.1,353.5 L106.1,353.7 L108.5,353.7 L108.5,354.1 L112.1,354.1 L112.1,354.6 L114.8,354.6 L114.8,355.1 L116.8,355.1 L116.8,355.4 L121.2,355.4 L121.2,356.1 L126.0,356.1 L126.0,356.9 L128.1,356.9 L128.1,357.3 L132.4,357.3 L132.4,358.0 L135.5,358.0 L135.5,358.5 L137.7,358.5 L137.7,358.9 L140.5,358.9 L140.5,359.3 L144.6,359.3 L144.6,360.0 L145.0,360.0 L145.0,360.0 L146.9,360.0 L146.9,361.4 L150.0,361.4 L150.0,363.4 L156.9,363.4 L157.1,363.4 L157.1,366.0 L162.7,366.0 L163.0,366.0 L163.0,373.0 L171.4,373.0 L171.6,373.0 L171.6,376.4 L185.3,376.4 L185.5,376.4 L185.5,378.9 L199.0,378.9 L199.3,378.9 L199.3,381.2 L221.8,381.2" fill="none" stroke="#86ee66" stroke-width="0.9"/>
<path d="M33.5,261.0 L34.1,261.0 L34.1,262.7 L34.5,262.7 L34.5,264.0 L35.2,264.0 L35.2,266.0 L35.7,266.0 L35.7,267.4 L36.1,267.4 L36.1,268.8 L36.8,268.8 L36.8,271.1 L38.0,271.1 L38.0,274.9 L38.5,274.9 L38.5,276.7 L39.5,276.7 L39.5,279.1 L40.1,279.1 L40.1,280.5 L40.9,280.5 L40.9,282.5 L41.5,282.5 L41.5,283.9 L42.0,283.9 L42.0,285.2 L42.3,285.2 L42.3,285.8 L42.8,285.8 L42.8,287.8 L44.0,287.8 L44.0,292.0 L44.8,292.0 L44.8,295.1 L45.9,295.1 L45.9,299.0 L46.9,299.0 L46.9,302.8 L47.4,302.8 L47.4,304.8 L48.1,304.8 L48.1,307.1 L48.1,307.1 L48.1,307.2 L49.1,307.2 L49.1,311.5 L50.2,311.5 L50.2,316.2 L51.3,316.2 L51.3,320.9 L51.7,320.9 L51.7,322.8 L51.9,322.8 L51.9,323.4 L52.8,323.4 L52.8,325.2 L53.6,325.2 L53.6,326.7 L54.1,326.7 L54.1,327.7 L54.9,327.7 L54.9,329.1 L55.3,329.1 L55.3,330.0 L56.5,330.0 L56.5,332.2 L57.6,332.2 L57.6,334.3 L58.4,334.3 L58.4,335.8 L59.5,335.8 L59.5,338.0 L62.0,338.0 L62.0,341.2 L63.9,341.2 L63.9,343.7 L66.3,343.7 L66.3,346.9 L68.7,346.9 L68.7,350.0 L69.2,350.0 L69.2,350.6 L70.7,350.6 L70.7,351.5 L72.6,351.5 L72.6,352.5 L74.2,352.5 L74.2,353.4 L75.2,353.4 L75.2,354.0 L76.5,354.0 L76.5,354.7 L76.9,354.7 L76.9,354.9 L77.8,354.9 L77.8,355.1 L78.6,355.1 L78.6,355.3 L80.5,355.3 L80.5,355.7 L81.8,355.7 L81.8,355.9 L83.6,355.9 L83.6,356.3 L85.2,356.3 L85.2,356.6 L86.6,356.6 L86.6,356.9 L88.5,356.9 L88.5,357.3 L89.6,357.3 L89.6,357.9 L91.2,357.9 L91.2,358.7 L92.3,358.7 L92.3,359.2 L94.2,359.2 L94.2,360.2 L95.5,360.2 L95.5,360.8 L96.9,360.8 L96.9,361.6 L99.1,361.6 L99.1,362.7 L99.9,362.7 L99.9,363.1 L101.8,363.1 L101.8,364.7 L104.3,364.7 L104.3,366.9 L105.0,366.9 L105.0,367.6 L105.8,367.6 L105.8,367.8 L107.0,367.8 L107.0,368.0 L111.2,368.0 L111.2,369.0 L114.9,369.0 L114.9,369.8 L117.4,369.8 L117.4,370.4 L120.3,370.4 L120.3,371.0 L122.6,371.0 L122.6,371.6 L125.8,371.6 L125.8,372.3 L127.8,372.3 L127.8,372.8 L131.7,372.8 L131.7,373.7 L136.3,373.7 L136.3,374.7 L141.0,374.7 L141.0,375.8 L145.0,375.8 L145.0,376.7 L149.7,376.7 L149.7,378.8 L150.0,378.8 L150.0,378.9 L160.2,378.9 L160.4,378.9 L160.4,385.0 L163.6,385.0 L163.8,385.0 L163.8,395.4 L171.4,395.4 L171.6,395.4 L171.6,398.0 L185.3,398.0 L185.5,398.0 L185.5,401.4 L199.0,401.4 L199.3,401.4 L199.3,407.6 L221.8,407.6" fill="none" stroke="#86ee66" stroke-width="0.9"/>
<path d="M33.5,261.0 L34.4,261.0 L34.4,265.7 L34.7,265.7 L34.7,267.4 L35.8,267.4 L35.8,270.7 L36.9,270.7 L36.9,274.4 L37.6,274.4 L37.6,276.7 L38.8,276.7 L38.8,280.0 L39.2,280.0 L39.2,281.1 L39.9,281.1 L39.9,283.3 L40.8,283.3 L40.8,285.8 L41.7,285.8 L41.7,288.5 L42.9,288.5 L42.9,291.8 L43.3,291.8 L43.3,293.2 L44.0,293.2 L44.0,295.1 L44.5,295.1 L44.5,297.6 L45.4,297.6 L45.4,301.2 L46.2,301.2 L46.2,304.9 L46.6,304.9 L46.6,306.5 L46.8,306.5 L46.8,307.2 L47.4,307.2 L47.4,309.8 L48.5,309.8 L48.5,314.6 L48.7,314.6 L48.7,315.4 L49.2,315.4 L49.2,319.0 L50.1,319.0 L50.1,325.0 L50.5,325.0 L50.5,326.4 L51.4,326.4 L51.4,329.0 L51.9,329.0 L51.9,330.4 L52.2,330.4 L52.2,331.4 L53.3,331.4 L53.3,334.6 L53.9,334.6 L53.9,336.1 L54.4,336.1 L54.4,337.7 L55.0,337.7 L55.0,339.4 L56.1,339.4 L56.1,342.6 L56.8,342.6 L56.8,344.3 L57.8,344.3 L57.8,347.4 L59.6,347.4 L59.6,351.5 L60.6,351.5 L60.6,353.8 L61.8,353.8 L61.8,356.1 L63.8,356.1 L63.8,360.2 L65.9,360.2 L65.9,361.4 L68.5,361.4 L68.5,363.0 L70.3,363.0 L70.3,364.0 L71.6,364.0 L71.6,364.6 L73.0,364.6 L73.0,365.2 L74.1,365.2 L74.1,365.6 L75.1,365.6 L75.1,366.1 L75.9,366.1 L75.9,366.4 L77.2,366.4 L77.2,367.0 L78.7,367.0 L78.7,367.6 L79.4,367.6 L79.4,367.9 L81.4,367.9 L81.4,368.9 L82.8,368.9 L82.8,369.6 L84.2,369.6 L84.2,370.3 L86.5,370.3 L86.5,371.4 L88.1,371.4 L88.1,372.3 L89.0,372.3 L89.0,372.7 L90.7,372.7 L90.7,373.4 L92.8,373.4 L92.8,374.2 L93.6,374.2 L93.6,374.6 L96.2,374.6 L96.2,375.6 L97.0,375.6 L97.0,376.0 L99.2,376.0 L99.2,376.9 L99.9,376.9 L99.9,377.2 L100.7,377.2 L100.7,377.5 L103.0,377.5 L103.0,378.4 L104.4,378.4 L104.4,379.0 L105.0,379.0 L105.0,379.2 L105.7,379.2 L105.7,379.4 L106.6,379.4 L106.6,379.5 L108.9,379.5 L108.9,379.9 L113.7,379.9 L113.7,380.7 L116.1,380.7 L116.1,381.1 L120.2,381.1 L120.2,381.8 L124.9,381.8 L124.9,382.6 L129.6,382.6 L129.6,383.4 L132.4,383.4 L132.4,383.9 L135.3,383.9 L135.3,384.3 L138.8,384.3 L138.8,384.9 L143.0,384.9 L143.0,385.6 L145.0,385.6 L145.0,386.0 L149.1,386.0 L149.1,386.4 L150.0,386.4 L150.0,386.4 L175.9,386.4 L176.1,386.4 L176.1,388.0 L185.3,388.0 L185.5,388.0 L185.5,390.1 L200.0,390.1 L200.2,390.1 L200.2,393.3 L229.6,393.3" fill="none" stroke="#fda060" stroke-width="0.9"/>
<path d="M33.5,261.0 L34.1,261.0 L34.1,267.4 L35.2,267.4 L35.2,272.2 L36.0,272.2 L36.0,275.7 L36.2,275.7 L36.2,276.7 L36.5,276.7 L36.5,279.0 L37.5,279.0 L37.5,284.8 L37.6,284.8 L37.6,285.8 L38.7,285.8 L38.7,290.9 L39.3,290.9 L39.3,294.4 L39.5,294.4 L39.5,295.1 L40.1,295.1 L40.1,299.1 L41.1,299.1 L41.1,306.0 L41.3,306.0 L41.3,307.2 L42.0,307.2 L42.0,310.5 L42.8,310.5 L42.8,314.1 L43.8,314.1 L43.8,318.4 L44.0,318.4 L44.0,319.2 L44.8,319.2 L44.8,322.5 L45.9,322.5 L45.9,326.7 L46.4,326.7 L46.4,328.8 L47.4,328.8 L47.4,333.0 L48.4,333.0 L48.4,336.7 L48.8,336.7 L48.8,338.4 L49.5,338.4 L49.5,341.1 L49.9,341.1 L49.9,343.0 L51.0,343.0 L51.0,347.3 L51.1,347.3 L51.1,348.0 L51.9,348.0 L51.9,350.2 L52.3,350.2 L52.3,351.5 L52.9,351.5 L52.9,353.1 L53.8,353.1 L53.8,355.8 L54.2,355.8 L54.2,357.0 L55.4,357.0 L55.4,358.9 L56.2,358.9 L56.2,360.3 L56.8,360.3 L56.8,361.2 L57.7,361.2 L57.7,362.7 L58.4,362.7 L58.4,363.8 L59.3,363.8 L59.3,365.3 L61.8,365.3 L61.8,367.8 L63.5,367.8 L63.5,369.5 L65.3,369.5 L65.3,371.2 L67.4,371.2 L67.4,373.0 L69.7,373.0 L69.7,374.9 L72.3,374.9 L72.3,377.1 L73.1,377.1 L73.1,377.7 L74.1,377.7 L74.1,378.6 L76.0,378.6 L76.0,379.6 L77.4,379.6 L77.4,380.2 L79.2,380.2 L79.2,381.2 L80.2,381.2 L80.2,381.6 L82.6,381.6 L82.6,382.9 L84.4,382.9 L84.4,383.7 L84.6,383.7 L84.6,383.9 L86.6,383.9 L86.6,384.8 L88.0,384.8 L88.0,385.4 L89.1,385.4 L89.1,385.8 L90.8,385.8 L90.8,386.6 L91.8,386.6 L91.8,387.0 L92.9,387.0 L92.9,387.5 L95.3,387.5 L95.3,388.6 L97.4,388.6 L97.4,389.5 L98.2,389.5 L98.2,389.8 L99.9,389.8 L99.9,390.6 L100.7,390.6 L100.7,390.8 L102.1,390.8 L102.1,391.2 L104.6,391.2 L104.6,391.9 L105.0,391.9 L105.0,392.0 L106.3,392.0 L106.3,392.3 L107.8,392.3 L107.8,392.5 L110.8,392.5 L110.8,393.0 L113.0,393.0 L113.0,393.3 L117.9,393.3 L117.9,394.1 L119.9,394.1 L119.9,394.4 L123.0,394.4 L123.0,394.9 L127.1,394.9 L127.1,395.6 L130.1,395.6 L130.1,396.1 L134.9,396.1 L134.9,396.8 L137.5,396.8 L137.5,397.2 L142.3,397.2 L142.3,398.0 L145.0,398.0 L145.0,398.4 L148.8,398.4 L148.8,398.6 L150.0,398.6 L150.0,398.6 L176.6,398.6 L176.9,398.6 L176.9,405.0 L185.3,405.0 L185.5,405.0 L185.5,407.6 L200.0,407.6 L200.2,407.6 L200.2,411.8 L229.6,411.8" fill="none" stroke="#fda060" stroke-width="0.9"/>
<path d="M33.5,261.0 L34.0,261.0 L34.0,267.4 L34.6,267.4 L34.6,272.3 L35.1,272.3 L35.1,276.1 L35.2,276.1 L35.2,276.7 L35.6,276.7 L35.6,279.3 L36.5,279.3 L36.5,284.5 L36.7,284.5 L36.7,285.8 L37.1,285.8 L37.1,288.7 L37.9,288.7 L37.9,294.2 L38.0,294.2 L38.0,295.1 L38.7,295.1 L38.7,301.8 L39.2,301.8 L39.2,305.6 L39.3,305.6 L39.3,307.2 L40.1,307.2 L40.1,310.7 L41.0,310.7 L41.0,315.4 L41.5,315.4 L41.5,316.9 L42.1,316.9 L42.1,318.8 L43.0,318.8 L43.0,321.7 L43.5,321.7 L43.5,323.4 L44.3,323.4 L44.3,326.7 L45.0,326.7 L45.0,329.4 L45.5,329.4 L45.5,331.4 L46.0,331.4 L46.0,333.5 L46.9,333.5 L46.9,338.4 L47.5,338.4 L47.5,342.0 L48.0,342.0 L48.0,344.8 L48.5,344.8 L48.5,347.5 L48.7,347.5 L48.7,349.0 L49.8,349.0 L49.8,353.5 L50.3,353.5 L50.3,355.6 L51.1,355.6 L51.1,359.2 L52.1,359.2 L52.1,361.1 L52.7,361.1 L52.7,362.4 L53.6,362.4 L53.6,364.1 L54.0,364.1 L54.0,364.9 L54.4,364.9 L54.4,365.7 L54.9,365.7 L54.9,366.8 L55.9,366.8 L55.9,367.7 L56.6,367.7 L56.6,368.5 L57.2,368.5 L57.2,369.1 L58.1,369.1 L58.1,370.0 L59.3,370.0 L59.3,371.2 L60.6,371.2 L60.6,372.4 L62.9,372.4 L62.9,374.3 L65.0,374.3 L65.0,376.1 L66.2,376.1 L66.2,377.1 L68.0,377.1 L68.0,378.7 L69.6,378.7 L69.6,380.0 L72.1,380.0 L72.1,381.0 L74.2,381.0 L74.2,381.8 L75.5,381.8 L75.5,382.2 L78.2,382.2 L78.2,383.2 L79.1,383.2 L79.1,383.6 L80.7,383.6 L80.7,384.2 L81.6,384.2 L81.6,384.5 L82.6,384.5 L82.6,384.7 L84.3,384.7 L84.3,385.1 L85.1,385.1 L85.1,385.3 L87.1,385.3 L87.1,385.7 L89.0,385.7 L89.0,386.1 L90.8,386.1 L90.8,387.0 L93.3,387.0 L93.3,388.2 L94.6,388.2 L94.6,388.9 L96.5,388.9 L96.5,389.8 L105.0,389.8 L115.6,389.8 L115.9,389.8 L115.9,391.8 L121.5,391.8 L121.7,391.8 L121.7,394.3 L147.4,394.3 L147.7,394.3 L147.7,398.3 L192.4,398.3" fill="none" stroke="#6d62d4" stroke-width="0.9"/>
<path d="M33.5,261.0 L33.6,261.0 L33.6,267.4 L34.0,267.4 L34.0,276.7 L34.5,276.7 L34.5,285.8 L35.0,285.8 L35.0,292.9 L35.2,292.9 L35.2,295.1 L35.7,295.1 L35.7,304.5 L35.8,304.5 L35.8,307.2 L36.2,307.2 L36.2,309.9 L36.8,309.9 L36.8,313.4 L37.2,313.4 L37.2,315.4 L37.7,315.4 L37.7,318.1 L38.6,318.1 L38.6,322.8 L38.7,322.8 L38.7,323.4 L39.5,323.4 L39.5,327.1 L40.3,327.1 L40.3,331.0 L40.7,331.0 L40.7,333.0 L41.8,333.0 L41.8,341.3 L41.8,341.3 L41.8,341.5 L42.3,341.5 L42.3,344.3 L42.7,344.3 L42.7,346.2 L43.3,346.2 L43.3,349.2 L44.0,349.2 L44.0,352.8 L44.5,352.8 L44.5,354.9 L45.1,354.9 L45.1,357.6 L45.6,357.6 L45.6,359.3 L46.2,359.3 L46.2,361.6 L47.4,361.6 L47.4,366.2 L47.5,366.2 L47.5,366.6 L48.4,366.6 L48.4,369.5 L49.1,369.5 L49.1,371.8 L50.0,371.8 L50.0,374.8 L50.4,374.8 L50.4,376.2 L51.4,376.2 L51.4,378.3 L52.2,378.3 L52.2,380.0 L53.1,380.0 L53.1,382.1 L54.2,382.1 L54.2,384.6 L54.9,384.6 L54.9,386.1 L55.4,386.1 L55.4,386.6 L55.8,386.6 L55.8,387.0 L57.0,387.0 L57.0,388.2 L57.8,388.2 L57.8,389.0 L58.3,389.0 L58.3,389.5 L60.9,389.5 L60.9,392.0 L62.3,392.0 L62.3,393.5 L64.5,393.5 L64.5,394.9 L66.9,394.9 L66.9,396.5 L68.2,396.5 L68.2,397.4 L69.6,397.4 L69.6,398.3 L71.2,398.3 L71.2,399.4 L72.2,399.4 L72.2,399.9 L74.4,399.9 L74.4,401.0 L75.4,401.0 L75.4,401.5 L77.4,401.5 L77.4,402.6 L79.5,402.6 L79.5,403.6 L81.6,403.6 L81.6,404.7 L83.9,404.7 L83.9,405.3 L85.7,405.3 L85.7,405.7 L86.8,405.7 L86.8,406.0 L87.8,406.0 L87.8,406.2 L89.6,406.2 L89.6,406.6 L91.3,406.6 L91.3,407.1 L92.1,407.1 L92.1,407.3 L94.6,407.3 L94.6,407.9 L96.4,407.9 L96.4,408.3 L96.5,408.3 L96.5,408.4 L105.0,407.6 L121.5,407.6 L121.7,407.6 L121.7,413.5 L147.4,413.5 L147.7,413.5 L147.7,418.0 L192.4,418.0" fill="none" stroke="#6d62d4" stroke-width="0.9"/>
<path d="M33.5,261.0 L34.3,261.0 L34.3,262.5 L34.9,262.5 L34.9,263.8 L35.4,263.8 L35.4,264.8 L35.9,264.8 L35.9,265.8 L36.3,265.8 L36.3,266.8 L37.1,266.8 L37.1,268.9 L38.2,268.9 L38.2,271.8 L38.7,271.8 L38.7,273.0 L39.5,273.0 L39.5,275.2 L39.6,275.2 L39.6,275.4 L40.0,275.4 L40.0,276.6 L40.7,276.6 L40.7,278.7 L41.6,278.7 L41.6,281.7 L42.4,281.7 L42.4,284.0 L43.2,284.0 L43.2,286.6 L43.7,286.6 L43.7,288.3 L44.3,288.3 L44.3,290.3 L44.8,290.3 L44.8,292.0 L45.6,292.0 L45.6,294.7 L46.7,294.7 L46.7,298.8 L46.9,298.8 L46.9,299.4 L47.9,299.4 L47.9,303.2 L48.6,303.2 L48.6,305.7 L49.6,305.7 L49.6,309.4 L49.9,309.4 L49.9,310.6 L50.5,310.6 L50.5,312.8 L51.5,312.8 L51.5,316.1 L52.5,316.1 L52.5,319.6 L52.5,319.6 L52.5,319.7 L52.9,319.7 L52.9,320.4 L53.5,320.4 L53.5,321.4 L54.1,321.4 L54.1,322.2 L54.7,322.2 L54.7,323.2 L55.7,323.2 L55.7,324.9 L56.3,324.9 L56.3,325.7 L57.4,325.7 L57.4,327.5 L57.7,327.5 L57.7,328.0 L58.1,328.0 L58.1,328.4 L59.6,328.4 L59.6,329.7 L61.3,329.7 L61.3,331.1 L62.1,331.1 L62.1,331.8 L63.6,331.8 L63.6,333.1 L64.4,333.1 L64.4,333.8 L65.4,333.8 L65.4,334.4 L67.3,334.4 L67.3,335.6 L68.2,335.6 L68.2,336.2 L70.1,336.2 L70.1,337.4 L72.5,337.4 L72.5,339.0 L73.7,339.0 L73.7,339.7 L74.4,339.7 L74.4,340.2 L75.0,340.2 L75.0,340.5 L76.8,340.5 L76.8,340.9 L77.5,340.9 L77.5,341.1 L78.4,341.1 L78.4,341.2 L80.1,341.2 L80.1,341.6 L82.7,341.6 L82.7,342.1 L84.2,342.1 L84.2,342.5 L85.7,342.5 L85.7,342.8 L86.4,342.8 L86.4,342.9 L87.4,342.9 L87.4,343.3 L89.2,343.3 L89.2,344.0 L90.3,344.0 L90.3,344.4 L92.2,344.4 L92.2,345.2 L94.8,345.2 L94.8,346.2 L95.6,346.2 L95.6,346.5 L97.4,346.5 L97.4,347.2 L99.3,347.2 L99.3,348.0 L99.9,348.0 L99.9,348.2 L101.2,348.2 L101.2,348.9 L103.9,348.9 L103.9,350.3 L105.0,350.3 L105.0,350.9 L106.0,350.9 L106.0,351.0 L108.1,351.0 L108.1,351.3 L112.8,351.3 L112.8,351.9 L115.3,351.9 L115.3,352.2 L119.0,352.2 L119.0,352.7 L121.0,352.7 L121.0,352.9 L123.9,352.9 L123.9,353.3 L127.8,353.3 L127.8,353.7 L131.4,353.7 L131.4,354.2 L135.6,354.2 L135.6,354.7 L137.7,354.7 L137.7,355.0 L140.6,355.0 L140.6,355.3 L145.0,355.3 L145.0,355.9 L148.6,355.9 L148.6,357.6 L150.0,357.6 L150.0,358.3 L151.5,358.3 L151.5,360.4 L171.4,360.4 L171.6,360.4 L171.6,363.4 L185.3,363.4 L185.5,363.4 L185.5,367.7 L240.0,365.2" fill="none" stroke="#f9a300" stroke-width="1.3"/>
<path d="M33.5,261.0 L34.4,261.0 L34.4,263.2 L35.1,263.2 L35.1,265.2 L35.9,265.2 L35.9,267.4 L36.5,267.4 L36.5,269.0 L37.5,269.0 L37.5,272.1 L38.6,272.1 L38.6,275.2 L39.1,275.2 L39.1,276.7 L39.6,276.7 L39.6,277.9 L40.4,277.9 L40.4,280.0 L41.1,280.0 L41.1,281.6 L41.6,281.6 L41.6,283.0 L42.7,283.0 L42.7,285.8 L44.0,285.8 L44.0,289.7 L44.4,289.7 L44.4,290.9 L45.5,290.9 L45.5,294.4 L45.7,294.4 L45.7,295.1 L46.4,295.1 L46.4,297.5 L47.0,297.5 L47.0,299.7 L47.9,299.7 L47.9,303.1 L48.7,303.1 L48.7,305.8 L49.1,305.8 L49.1,307.2 L50.0,307.2 L50.0,310.3 L50.5,310.3 L50.5,311.9 L51.5,311.9 L51.5,315.3 L52.7,315.3 L52.7,319.2 L52.9,319.2 L52.9,319.7 L53.7,319.7 L53.7,321.3 L54.1,321.3 L54.1,322.1 L54.5,322.1 L54.5,322.7 L55.0,322.7 L55.0,323.6 L56.2,323.6 L56.2,325.7 L56.8,325.7 L56.8,326.9 L57.5,326.9 L57.5,328.1 L58.6,328.1 L58.6,330.1 L59.5,330.1 L59.5,331.9 L61.3,331.9 L61.3,333.8 L62.9,333.8 L62.9,335.4 L63.8,335.4 L63.8,336.3 L65.6,336.3 L65.6,338.3 L67.3,338.3 L67.3,340.0 L68.4,340.0 L68.4,341.1 L69.5,341.1 L69.5,342.4 L71.1,342.4 L71.1,344.0 L71.9,344.0 L71.9,344.9 L73.6,344.9 L73.6,346.7 L75.0,346.7 L75.0,348.2 L77.0,348.2 L77.0,348.7 L78.8,348.7 L78.8,349.1 L81.2,349.1 L81.2,349.7 L82.2,349.7 L82.2,350.0 L84.0,350.0 L84.0,350.5 L84.6,350.5 L84.6,350.6 L86.5,350.6 L86.5,351.3 L87.5,351.3 L87.5,351.7 L89.7,351.7 L89.7,352.5 L90.6,352.5 L90.6,352.9 L91.7,352.9 L91.7,353.3 L94.0,353.3 L94.0,354.1 L96.6,354.1 L96.6,355.1 L98.1,355.1 L98.1,355.7 L99.7,355.7 L99.7,356.3 L99.9,356.3 L99.9,356.4 L101.2,356.4 L101.2,357.0 L103.1,357.0 L103.1,357.9 L104.2,357.9 L104.2,358.4 L105.0,358.4 L105.0,358.8 L106.6,358.8 L106.6,359.2 L108.9,359.2 L108.9,359.9 L112.7,359.9 L112.7,360.9 L117.1,360.9 L117.1,362.1 L121.3,362.1 L121.3,363.3 L124.5,363.3 L124.5,364.2 L127.4,364.2 L127.4,365.0 L130.6,365.0 L130.6,365.9 L132.4,365.9 L132.4,366.4 L136.4,366.4 L136.4,367.6 L139.2,367.6 L139.2,368.4 L142.0,368.4 L142.0,369.1 L144.1,369.1 L144.1,369.7 L145.0,369.7 L145.0,370.0 L148.6,370.0 L148.6,370.8 L150.0,370.8 L150.0,371.1 L159.2,371.1 L159.5,371.1 L159.5,375.6 L162.7,375.6 L163.0,375.6 L163.0,381.5 L165.3,381.5 L165.5,381.5 L165.5,385.0 L171.4,385.0 L171.6,385.0 L171.6,386.8 L185.3,386.8 L185.5,386.8 L185.5,390.1 L199.0,390.1 L199.3,390.1 L199.3,396.2 L221.8,396.2" fill="none" stroke="#35dc00" stroke-width="1.3"/>
<path d="M33.5,261.0 L34.3,261.0 L34.3,265.9 L34.5,265.9 L34.5,267.4 L35.6,267.4 L35.6,271.8 L36.4,271.8 L36.4,274.7 L36.9,274.7 L36.9,276.7 L37.8,276.7 L37.8,280.1 L38.3,280.1 L38.3,282.2 L39.1,282.2 L39.1,285.3 L39.2,285.3 L39.2,285.8 L40.3,285.8 L40.3,289.6 L40.7,289.6 L40.7,291.2 L41.3,291.2 L41.3,293.5 L41.8,293.5 L41.8,295.1 L41.8,295.1 L41.8,295.1 L42.7,295.1 L42.7,300.4 L43.1,300.4 L43.1,302.6 L44.0,302.6 L44.0,307.2 L45.2,307.2 L45.2,313.1 L46.1,313.1 L46.1,317.6 L46.4,317.6 L46.4,319.2 L46.9,319.2 L46.9,320.9 L47.3,320.9 L47.3,322.1 L48.1,322.1 L48.1,324.8 L48.5,324.8 L48.5,326.2 L49.0,326.2 L49.0,327.9 L49.3,327.9 L49.3,328.8 L49.7,328.8 L49.7,330.4 L50.5,330.4 L50.5,333.4 L51.2,333.4 L51.2,336.3 L51.8,336.3 L51.8,338.4 L52.6,338.4 L52.6,340.6 L53.5,340.6 L53.5,343.0 L54.1,343.0 L54.1,344.5 L55.0,344.5 L55.0,346.6 L55.8,346.6 L55.8,348.2 L56.4,348.2 L56.4,349.5 L57.6,349.5 L57.6,352.2 L58.8,352.2 L58.8,354.9 L60.8,354.9 L60.8,359.2 L62.9,359.2 L62.9,361.9 L64.2,361.9 L64.2,363.6 L65.4,363.6 L65.4,365.1 L66.7,365.1 L66.7,366.7 L66.7,366.7 L66.7,366.8 L68.9,366.8 L68.9,368.5 L70.5,368.5 L70.5,369.7 L72.8,369.7 L72.8,371.6 L74.1,371.6 L74.1,372.7 L76.7,372.7 L76.7,374.2 L79.1,374.2 L79.1,375.7 L79.9,375.7 L79.9,376.1 L81.0,376.1 L81.0,376.8 L81.6,376.8 L81.6,377.2 L83.2,377.2 L83.2,378.0 L85.9,378.0 L85.9,379.3 L87.4,379.3 L87.4,380.0 L88.2,380.0 L88.2,380.5 L89.0,380.5 L89.0,380.8 L91.2,380.8 L91.2,381.8 L92.5,381.8 L92.5,382.3 L93.4,382.3 L93.4,382.6 L94.8,382.6 L94.8,383.2 L97.4,383.2 L97.4,384.3 L99.6,384.3 L99.6,385.2 L99.9,385.2 L99.9,385.3 L101.2,385.3 L101.2,385.9 L102.1,385.9 L102.1,386.3 L102.9,386.3 L102.9,386.6 L105.0,386.6 L105.0,387.6 L106.1,387.6 L106.1,387.7 L107.9,387.7 L107.9,388.0 L111.1,388.0 L111.1,388.5 L113.5,388.5 L113.5,388.8 L117.5,388.8 L117.5,389.4 L119.8,389.4 L119.8,389.7 L123.5,389.7 L123.5,390.3 L125.7,390.3 L125.7,390.6 L128.8,390.6 L128.8,391.1 L131.3,391.1 L131.3,391.5 L134.0,391.5 L134.0,391.8 L138.7,391.8 L138.7,392.6 L143.0,392.6 L143.0,393.2 L145.0,393.2 L145.0,393.5 L149.5,393.5 L149.5,393.9 L150.0,393.9 L150.0,394.0 L176.6,394.0 L176.9,394.0 L176.9,397.2 L185.3,397.2 L185.5,397.2 L185.5,400.2 L200.0,400.2 L200.2,400.2 L200.2,404.4 L229.6,404.4 L229.6,421.0" fill="none" stroke="#ff6400" stroke-width="1.3"/>
<path d="M33.5,261.0 L33.7,261.0 L33.7,267.4 L34.5,267.4 L34.5,274.7 L34.7,274.7 L34.7,276.7 L35.4,276.7 L35.4,285.8 L35.9,285.8 L35.9,289.9 L36.3,289.9 L36.3,293.1 L36.5,293.1 L36.5,295.1 L37.1,295.1 L37.1,302.6 L37.5,302.6 L37.5,307.2 L38.5,307.2 L38.5,312.6 L39.0,312.6 L39.0,315.4 L39.8,315.4 L39.8,319.8 L40.7,319.8 L40.7,324.7 L40.8,324.7 L40.8,325.0 L41.5,325.0 L41.5,331.2 L42.0,331.2 L42.0,335.4 L42.1,335.4 L42.1,336.2 L42.6,336.2 L42.6,338.5 L43.6,338.5 L43.6,344.5 L43.8,344.5 L43.8,345.8 L44.8,345.8 L44.8,350.0 L45.4,350.0 L45.4,352.9 L45.9,352.9 L45.9,354.9 L47.0,354.9 L47.0,358.1 L47.4,358.1 L47.4,359.2 L47.8,359.2 L47.8,360.5 L48.9,360.5 L48.9,363.8 L49.7,363.8 L49.7,366.2 L50.2,366.2 L50.2,367.5 L50.4,367.5 L50.4,368.2 L51.6,368.2 L51.6,370.5 L52.0,370.5 L52.0,371.4 L52.8,371.4 L52.8,372.9 L53.3,372.9 L53.3,373.8 L53.9,373.8 L53.9,375.1 L54.8,375.1 L54.8,376.9 L54.9,376.9 L54.9,377.2 L55.9,377.2 L55.9,378.1 L56.3,378.1 L56.3,378.6 L56.8,378.6 L56.8,379.1 L57.9,379.1 L57.9,380.2 L59.3,380.2 L59.3,381.6 L60.8,381.6 L60.8,383.2 L62.7,383.2 L62.7,385.0 L64.4,385.0 L64.4,386.7 L65.9,386.7 L65.9,388.2 L66.7,388.2 L66.7,388.9 L66.7,388.9 L66.7,389.0 L69.3,389.0 L69.3,391.0 L72.0,391.0 L72.0,392.9 L72.7,392.9 L72.7,393.5 L74.1,393.5 L74.1,393.8 L75.5,393.8 L75.5,394.2 L77.6,394.2 L77.6,394.7 L79.7,394.7 L79.7,395.3 L80.6,395.3 L80.6,395.5 L81.8,395.5 L81.8,395.8 L83.2,395.8 L83.2,396.2 L84.6,396.2 L84.6,396.5 L86.9,396.5 L86.9,397.3 L88.6,397.3 L88.6,397.8 L89.4,397.8 L89.4,398.1 L91.7,398.1 L91.7,398.8 L93.3,398.8 L93.3,399.3 L95.0,399.3 L95.0,399.9 L96.1,399.9 L96.1,399.9 L97.7,399.9 L97.7,399.9 L99.2,399.9 L99.2,399.9 L101.4,399.9 L101.4,400.0 L102.3,400.0 L102.3,400.0 L104.1,400.0 L104.1,400.0 L105.0,400.0 L105.0,400.0 L115.6,400.0 L115.9,400.0 L115.9,402.6 L121.5,402.6 L121.7,402.6 L121.7,406.8 L147.4,406.8 L147.7,406.8 L147.7,411.1 L192.4,411.1 L192.4,421.0" fill="none" stroke="#2410a4" stroke-width="1.3"/>
<line x1="227.6" y1="412.3" x2="231.6" y2="412.3" stroke="#ff6400" stroke-width="1"/>
<path d="M33.5,260.5 V421 H240" fill="none" stroke="#000" stroke-width="1.3"/>
<line x1="31.2" y1="261.0" x2="33.5" y2="261.0" stroke="#000" stroke-width="1"/>
<text x="31" y="263.6" font-size="7.4" text-anchor="end" letter-spacing="-0.2">100</text>
<line x1="31.2" y1="341.0" x2="33.5" y2="341.0" stroke="#000" stroke-width="1"/>
<text x="31" y="343.6" font-size="7.4" text-anchor="end" letter-spacing="-0.2">50</text>
<line x1="31.2" y1="421.0" x2="33.5" y2="421.0" stroke="#000" stroke-width="1"/>
<text x="31" y="423.6" font-size="7.4" text-anchor="end" letter-spacing="-0.2">0</text>
<line x1="33.5" y1="421" x2="33.5" y2="423.6" stroke="#000" stroke-width="1"/>
<text x="33.5" y="430" font-size="7.6" text-anchor="middle" letter-spacing="-0.2">0</text>
<line x1="63.9" y1="421" x2="63.9" y2="423.6" stroke="#000" stroke-width="1"/>
<text x="63.9" y="430" font-size="7.6" text-anchor="middle" letter-spacing="-0.2">25</text>
<line x1="94.3" y1="421" x2="94.3" y2="423.6" stroke="#000" stroke-width="1"/>
<text x="94.3" y="430" font-size="7.6" text-anchor="middle" letter-spacing="-0.2">50</text>
<line x1="124.8" y1="421" x2="124.8" y2="423.6" stroke="#000" stroke-width="1"/>
<text x="124.8" y="430" font-size="7.6" text-anchor="middle" letter-spacing="-0.2">75</text>
<line x1="155.2" y1="421" x2="155.2" y2="423.6" stroke="#000" stroke-width="1"/>
<text x="155.2" y="430" font-size="7.6" text-anchor="middle" letter-spacing="-0.2">100</text>
<line x1="185.6" y1="421" x2="185.6" y2="423.6" stroke="#000" stroke-width="1"/>
<text x="185.6" y="430" font-size="7.6" text-anchor="middle" letter-spacing="-0.2">125</text>
<line x1="216.1" y1="421" x2="216.1" y2="423.6" stroke="#000" stroke-width="1"/>
<text x="216.1" y="430" font-size="7.6" text-anchor="middle" letter-spacing="-0.2">150</text>
<text x="113" y="438.6" font-size="7.8" textLength="48" lengthAdjust="spacingAndGlyphs">Time (months)</text>
<text transform="translate(17.6,341) rotate(-90)" font-size="7.8" text-anchor="middle" textLength="52" lengthAdjust="spacingAndGlyphs">Percent survival</text>
<line x1="133" y1="274.7" x2="139.3" y2="274.7" stroke="#f9a300" stroke-width="1.3"/>
<text x="141.2" y="277.2" font-size="7.3" textLength="60" lengthAdjust="spacingAndGlyphs">Genomic cluster-1</text>
<line x1="133" y1="282.6" x2="139.3" y2="282.6" stroke="#35dc00" stroke-width="1.3"/>
<text x="141.2" y="285.1" font-size="7.3" textLength="60" lengthAdjust="spacingAndGlyphs">Genomic cluster-2</text>
<line x1="133" y1="290.6" x2="139.3" y2="290.6" stroke="#ff6400" stroke-width="1.3"/>
<text x="141.2" y="293.1" font-size="7.3" textLength="60" lengthAdjust="spacingAndGlyphs">Genomic cluster-3</text>
<line x1="133" y1="298.6" x2="139.3" y2="298.6" stroke="#2410a4" stroke-width="1.3"/>
<text x="141.2" y="301.1" font-size="7.3" textLength="60" lengthAdjust="spacingAndGlyphs">Genomic cluster-4</text>
<text x="140.7" y="322" font-size="7.6" textLength="31.6" lengthAdjust="spacingAndGlyphs">P&lt;0.0001</text>
<path d="M55.60,493.90 L55.60,458.50 A35.4,35.4 0 0 1 87.63,508.97 Z" fill="#fcb400" stroke="#fff" stroke-width="1.6" stroke-linejoin="round"/>
<path d="M55.60,493.90 L87.63,508.97 A35.4,35.4 0 0 1 26.96,514.71 Z" fill="#3cf000" stroke="#fff" stroke-width="1.6" stroke-linejoin="round"/>
<path d="M55.60,493.90 L26.96,514.71 A35.4,35.4 0 0 1 34.79,465.26 Z" fill="#ff7400" stroke="#fff" stroke-width="1.6" stroke-linejoin="round"/>
<path d="M55.60,493.90 L34.79,465.26 A35.4,35.4 0 0 1 55.60,458.50 Z" fill="#1c0090" stroke="#fff" stroke-width="1.6" stroke-linejoin="round"/>
<path d="M135.50,494.20 L135.50,458.80 A35.4,35.4 0 0 1 146.44,460.53 Z" fill="#fcb400" stroke="#fff" stroke-width="1.6" stroke-linejoin="round"/>
<path d="M135.50,494.20 L146.44,460.53 A35.4,35.4 0 0 1 162.78,516.76 Z" fill="#3cf000" stroke="#fff" stroke-width="1.6" stroke-linejoin="round"/>
<path d="M135.50,494.20 L162.78,516.76 A35.4,35.4 0 0 1 100.73,487.57 Z" fill="#ff7400" stroke="#fff" stroke-width="1.6" stroke-linejoin="round"/>
<path d="M135.50,494.20 L100.73,487.57 A35.4,35.4 0 0 1 135.50,458.80 Z" fill="#1c0090" stroke="#fff" stroke-width="1.6" stroke-linejoin="round"/>
<text x="72.5" y="487.1" font-size="6.2" text-anchor="middle" fill="#222" style="stroke-width:0.08px">32%</text>
<text x="56.0" y="515.6" font-size="6.2" text-anchor="middle" fill="#222" style="stroke-width:0.08px">33%</text>
<text x="33.5" y="492.6" font-size="6.2" text-anchor="middle" fill="#222" style="stroke-width:0.08px">25%</text>
<text x="47.7" y="471.5" font-size="6.2" text-anchor="middle" fill="#fff" style="stroke-width:0.08px">10%</text>
<text x="139.6" y="466.4" font-size="6.2" text-anchor="middle" fill="#222" style="stroke-width:0.08px">5%</text>
<text x="154.3" y="489.9" font-size="6.2" text-anchor="middle" fill="#222" style="stroke-width:0.08px">31%</text>
<text x="127.7" y="515.3" font-size="6.2" text-anchor="middle" fill="#222" style="stroke-width:0.08px">42%</text>
<text x="122.2" y="479.4" font-size="6.2" text-anchor="middle" fill="#fff" style="stroke-width:0.08px">22%</text>
<text x="57" y="455.3" font-size="7.6" text-anchor="middle" textLength="20" lengthAdjust="spacingAndGlyphs">pAML</text>
<text x="136.4" y="454.8" font-size="7.6" text-anchor="middle" textLength="19" lengthAdjust="spacingAndGlyphs">sAML</text>
<rect x="184" y="476.6" width="4.8" height="6.4" fill="#fcb400"/>
<text x="192.8" y="483.1" font-size="7.6" textLength="62" lengthAdjust="spacingAndGlyphs">Genomic Cluster-1</text>
<rect x="184" y="486" width="4.8" height="6.1" fill="#3cf000"/>
<text x="192.8" y="491.4" font-size="7.6" textLength="62" lengthAdjust="spacingAndGlyphs">Genomic Cluster-2</text>
<rect x="184" y="495" width="4.8" height="6.5" fill="#ff7400"/>
<text x="192.8" y="500.4" font-size="7.6" textLength="62" lengthAdjust="spacingAndGlyphs">Genomic Cluster-3</text>
<rect x="184" y="504.6" width="4.8" height="6.9" fill="#1c0090"/>
<text x="192.8" y="509.9" font-size="7.6" textLength="62" lengthAdjust="spacingAndGlyphs">Genomic Cluster-4</text>
<rect x="330.8" y="58.04" width="15.90" height="97.46" fill="#c8000e"/>
<rect x="346.7" y="142.85" width="15.90" height="12.65" fill="#0a32b4"/>
<line x1="346.7" y1="155.5" x2="346.7" y2="158.3" stroke="#000" stroke-width="1"/>
<rect x="378" y="95.22" width="15.80" height="60.28" fill="#c8000e"/>
<rect x="393.8" y="105.45" width="15.80" height="50.05" fill="#0a32b4"/>
<line x1="393.8" y1="155.5" x2="393.8" y2="158.3" stroke="#000" stroke-width="1"/>
<rect x="425.1" y="111.50" width="15.10" height="44.00" fill="#c8000e"/>
<rect x="440.2" y="89.94" width="15.10" height="65.56" fill="#0a32b4"/>
<line x1="440.2" y1="155.5" x2="440.2" y2="158.3" stroke="#000" stroke-width="1"/>
<rect x="472" y="119.53" width="15.30" height="35.97" fill="#c8000e"/>
<rect x="487.3" y="81.25" width="15.30" height="74.25" fill="#0a32b4"/>
<line x1="487.3" y1="155.5" x2="487.3" y2="158.3" stroke="#000" stroke-width="1"/>
<path d="M322.4,44.6 V155.9 H511.6" fill="none" stroke="#000" stroke-width="1.3"/>
<line x1="319.7" y1="45.5" x2="322.4" y2="45.5" stroke="#000" stroke-width="1"/>
<text x="318.4" y="48.4" font-size="8" text-anchor="end">1.0</text>
<line x1="319.7" y1="67.5" x2="322.4" y2="67.5" stroke="#000" stroke-width="1"/>
<text x="318.4" y="70.4" font-size="8" text-anchor="end">0.8</text>
<line x1="319.7" y1="89.5" x2="322.4" y2="89.5" stroke="#000" stroke-width="1"/>
<text x="318.4" y="92.4" font-size="8" text-anchor="end">0.6</text>
<line x1="319.7" y1="111.5" x2="322.4" y2="111.5" stroke="#000" stroke-width="1"/>
<text x="318.4" y="114.4" font-size="8" text-anchor="end">0.4</text>
<line x1="319.7" y1="133.5" x2="322.4" y2="133.5" stroke="#000" stroke-width="1"/>
<text x="318.4" y="136.4" font-size="8" text-anchor="end">0.2</text>
<line x1="319.7" y1="155.5" x2="322.4" y2="155.5" stroke="#000" stroke-width="1"/>
<text x="318.4" y="158.4" font-size="8" text-anchor="end">0</text>
<text transform="translate(301.8,99.5) rotate(-90)" font-size="7.8" text-anchor="middle" textLength="34.5" lengthAdjust="spacingAndGlyphs">Frequency</text>
<rect x="354.3" y="48.8" width="8.2" height="5.1" fill="#c8000e"/>
<rect x="354.3" y="57.4" width="8.2" height="5.1" fill="#0a32b4"/>
<text x="366" y="53.9" font-size="7.8" textLength="20" lengthAdjust="spacingAndGlyphs">pAML</text>
<text x="366" y="62.5" font-size="7.8" textLength="19" lengthAdjust="spacingAndGlyphs">sAML</text>
<text x="346.7" y="166.4" font-size="8" text-anchor="middle" textLength="31.7" lengthAdjust="spacingAndGlyphs">Genomic</text>
<text x="346.7" y="174.6" font-size="8" text-anchor="middle" textLength="30" lengthAdjust="spacingAndGlyphs">cluster-1</text>
<text x="393.8" y="166.4" font-size="8" text-anchor="middle" textLength="31.7" lengthAdjust="spacingAndGlyphs">Genomic</text>
<text x="393.8" y="174.6" font-size="8" text-anchor="middle" textLength="30" lengthAdjust="spacingAndGlyphs">cluster-2</text>
<text x="440.2" y="166.4" font-size="8" text-anchor="middle" textLength="31.7" lengthAdjust="spacingAndGlyphs">Genomic</text>
<text x="440.2" y="174.6" font-size="8" text-anchor="middle" textLength="30" lengthAdjust="spacingAndGlyphs">cluster-3</text>
<text x="487.3" y="166.4" font-size="8" text-anchor="middle" textLength="31.7" lengthAdjust="spacingAndGlyphs">Genomic</text>
<text x="487.3" y="174.6" font-size="8" text-anchor="middle" textLength="30" lengthAdjust="spacingAndGlyphs">cluster-4</text>
<line x1="329" y1="328.3" x2="436.2" y2="328.3" stroke="#dc0c1c" stroke-width="1.3" stroke-dasharray="1.3,2.2"/>
<line x1="361.0" y1="328.3" x2="361.0" y2="494.5" stroke="#dc0c1c" stroke-width="1.3" stroke-dasharray="1.3,2.2"/>
<line x1="379.8" y1="328.3" x2="379.8" y2="494.5" stroke="#dc0c1c" stroke-width="1.3" stroke-dasharray="1.3,2.2"/>
<line x1="398.6" y1="328.3" x2="398.6" y2="494.5" stroke="#dc0c1c" stroke-width="1.3" stroke-dasharray="1.3,2.2"/>
<line x1="436.2" y1="328.3" x2="436.2" y2="494.5" stroke="#dc0c1c" stroke-width="1.3" stroke-dasharray="1.3,2.2"/>
<line x1="342.2" y1="328.3" x2="342.2" y2="380.4" stroke="#2850c0" stroke-width="1.3" stroke-dasharray="1.4,1.6"/>
<line x1="342.2" y1="425.9" x2="342.2" y2="486.8" stroke="#2850c0" stroke-width="1.3" stroke-dasharray="1.4,1.6"/>
<line x1="338.0" y1="328.3" x2="346.4" y2="328.3" stroke="#2850c0" stroke-width="1.2"/>
<line x1="338.0" y1="486.8" x2="346.4" y2="486.8" stroke="#2850c0" stroke-width="1.2"/>
<rect x="334.6" y="380.4" width="15.2" height="45.5" fill="none" stroke="#2850c0" stroke-width="1.2"/>
<line x1="334.6" y1="403.8" x2="349.8" y2="403.8" stroke="#2850c0" stroke-width="1.9"/>
<line x1="361.0" y1="275.2" x2="361.0" y2="305.4" stroke="#2850c0" stroke-width="1.3" stroke-dasharray="1.4,1.6"/>
<line x1="361.0" y1="351.0" x2="361.0" y2="373.2" stroke="#2850c0" stroke-width="1.3" stroke-dasharray="1.4,1.6"/>
<line x1="356.8" y1="275.2" x2="365.2" y2="275.2" stroke="#2850c0" stroke-width="1.2"/>
<line x1="356.8" y1="373.2" x2="365.2" y2="373.2" stroke="#2850c0" stroke-width="1.2"/>
<rect x="353.4" y="305.4" width="15.2" height="45.6" fill="none" stroke="#2850c0" stroke-width="1.2"/>
<line x1="353.4" y1="328.1" x2="368.6" y2="328.1" stroke="#2850c0" stroke-width="1.9"/>
<line x1="379.8" y1="283.5" x2="379.8" y2="313.3" stroke="#2850c0" stroke-width="1.3" stroke-dasharray="1.4,1.6"/>
<line x1="379.8" y1="351.0" x2="379.8" y2="396.2" stroke="#2850c0" stroke-width="1.3" stroke-dasharray="1.4,1.6"/>
<line x1="375.6" y1="283.5" x2="384.0" y2="283.5" stroke="#2850c0" stroke-width="1.2"/>
<line x1="375.6" y1="396.2" x2="384.0" y2="396.2" stroke="#2850c0" stroke-width="1.2"/>
<rect x="372.2" y="313.3" width="15.2" height="37.7" fill="none" stroke="#2850c0" stroke-width="1.2"/>
<line x1="372.2" y1="328.1" x2="387.4" y2="328.1" stroke="#2850c0" stroke-width="1.9"/>
<line x1="398.6" y1="275.8" x2="398.6" y2="313.3" stroke="#2850c0" stroke-width="1.3" stroke-dasharray="1.4,1.6"/>
<line x1="398.6" y1="358.3" x2="398.6" y2="389.0" stroke="#2850c0" stroke-width="1.3" stroke-dasharray="1.4,1.6"/>
<line x1="394.4" y1="275.8" x2="402.8" y2="275.8" stroke="#2850c0" stroke-width="1.2"/>
<line x1="394.4" y1="389.0" x2="402.8" y2="389.0" stroke="#2850c0" stroke-width="1.2"/>
<rect x="391.0" y="313.3" width="15.2" height="45.0" fill="none" stroke="#2850c0" stroke-width="1.2"/>
<line x1="391.0" y1="328.1" x2="406.2" y2="328.1" stroke="#2850c0" stroke-width="1.9"/>
<line x1="417.4" y1="268.1" x2="417.4" y2="321.3" stroke="#2850c0" stroke-width="1.3" stroke-dasharray="1.4,1.6"/>
<line x1="417.4" y1="366.2" x2="417.4" y2="433.8" stroke="#2850c0" stroke-width="1.3" stroke-dasharray="1.4,1.6"/>
<line x1="413.2" y1="268.1" x2="421.6" y2="268.1" stroke="#2850c0" stroke-width="1.2"/>
<line x1="413.2" y1="433.8" x2="421.6" y2="433.8" stroke="#2850c0" stroke-width="1.2"/>
<rect x="409.8" y="321.3" width="15.2" height="44.9" fill="none" stroke="#2850c0" stroke-width="1.2"/>
<line x1="409.8" y1="343.8" x2="425.0" y2="343.8" stroke="#2850c0" stroke-width="1.9"/>
<line x1="436.2" y1="283.3" x2="436.2" y2="320.8" stroke="#2850c0" stroke-width="1.3" stroke-dasharray="1.4,1.6"/>
<line x1="436.2" y1="358.3" x2="436.2" y2="381.6" stroke="#2850c0" stroke-width="1.3" stroke-dasharray="1.4,1.6"/>
<line x1="432.0" y1="283.3" x2="440.4" y2="283.3" stroke="#2850c0" stroke-width="1.2"/>
<line x1="432.0" y1="381.6" x2="440.4" y2="381.6" stroke="#2850c0" stroke-width="1.2"/>
<rect x="428.6" y="320.8" width="15.2" height="37.5" fill="none" stroke="#2850c0" stroke-width="1.2"/>
<line x1="428.6" y1="328.1" x2="443.8" y2="328.1" stroke="#2850c0" stroke-width="1.9"/>
<line x1="455.0" y1="291.0" x2="455.0" y2="320.8" stroke="#2850c0" stroke-width="1.3" stroke-dasharray="1.4,1.6"/>
<line x1="455.0" y1="358.4" x2="455.0" y2="403.8" stroke="#2850c0" stroke-width="1.3" stroke-dasharray="1.4,1.6"/>
<line x1="450.8" y1="291.0" x2="459.2" y2="291.0" stroke="#2850c0" stroke-width="1.2"/>
<line x1="450.8" y1="403.8" x2="459.2" y2="403.8" stroke="#2850c0" stroke-width="1.2"/>
<rect x="447.4" y="320.8" width="15.2" height="37.6" fill="none" stroke="#2850c0" stroke-width="1.2"/>
<line x1="447.4" y1="343.7" x2="462.6" y2="343.7" stroke="#2850c0" stroke-width="1.9"/>
<line x1="473.8" y1="283.5" x2="473.8" y2="313.0" stroke="#2850c0" stroke-width="1.3" stroke-dasharray="1.4,1.6"/>
<line x1="473.8" y1="366.0" x2="473.8" y2="403.1" stroke="#2850c0" stroke-width="1.3" stroke-dasharray="1.4,1.6"/>
<line x1="469.6" y1="283.5" x2="478.0" y2="283.5" stroke="#2850c0" stroke-width="1.2"/>
<line x1="469.6" y1="403.1" x2="478.0" y2="403.1" stroke="#2850c0" stroke-width="1.2"/>
<rect x="466.2" y="313.0" width="15.2" height="53.0" fill="none" stroke="#2850c0" stroke-width="1.2"/>
<line x1="466.2" y1="336.2" x2="481.4" y2="336.2" stroke="#2850c0" stroke-width="1.9"/>
<line x1="492.6" y1="291.0" x2="492.6" y2="313.0" stroke="#2850c0" stroke-width="1.3" stroke-dasharray="1.4,1.6"/>
<line x1="492.6" y1="358.4" x2="492.6" y2="410.5" stroke="#2850c0" stroke-width="1.3" stroke-dasharray="1.4,1.6"/>
<line x1="488.4" y1="291.0" x2="496.8" y2="291.0" stroke="#2850c0" stroke-width="1.2"/>
<line x1="488.4" y1="410.5" x2="496.8" y2="410.5" stroke="#2850c0" stroke-width="1.2"/>
<rect x="485.0" y="313.0" width="15.2" height="45.4" fill="none" stroke="#2850c0" stroke-width="1.2"/>
<line x1="485.0" y1="339.6" x2="500.2" y2="339.6" stroke="#2850c0" stroke-width="1.9"/>
<circle cx="379.8" cy="410.1" r="1.8" fill="none" stroke="#2850c0" stroke-width="1.1"/>
<rect x="326.6" y="259.5" width="182" height="235.2" fill="none" stroke="#000" stroke-width="1.3"/>
<line x1="322.8" y1="289.0" x2="326.6" y2="289.0" stroke="#000" stroke-width="1"/>
<text transform="translate(318.8,289.0) rotate(-90)" font-size="7.4" text-anchor="middle">0.98</text>
<line x1="322.8" y1="329.4" x2="326.6" y2="329.4" stroke="#000" stroke-width="1"/>
<text transform="translate(318.8,329.4) rotate(-90)" font-size="7.4" text-anchor="middle">0.97</text>
<line x1="322.8" y1="369.8" x2="326.6" y2="369.8" stroke="#000" stroke-width="1"/>
<text transform="translate(318.8,369.8) rotate(-90)" font-size="7.4" text-anchor="middle">0.96</text>
<line x1="322.8" y1="410.2" x2="326.6" y2="410.2" stroke="#000" stroke-width="1"/>
<text transform="translate(318.8,410.2) rotate(-90)" font-size="7.4" text-anchor="middle">0.95</text>
<line x1="322.8" y1="450.6" x2="326.6" y2="450.6" stroke="#000" stroke-width="1"/>
<text transform="translate(318.8,450.6) rotate(-90)" font-size="7.4" text-anchor="middle">0.94</text>
<line x1="322.8" y1="491.0" x2="326.6" y2="491.0" stroke="#000" stroke-width="1"/>
<text transform="translate(318.8,491.0) rotate(-90)" font-size="7.4" text-anchor="middle">0.93</text>
<line x1="342.2" y1="494.8" x2="342.2" y2="498.4" stroke="#000" stroke-width="1"/>
<text x="342.2" y="508.6" font-size="7.6" text-anchor="middle">2</text>
<line x1="379.8" y1="494.8" x2="379.8" y2="498.4" stroke="#000" stroke-width="1"/>
<text x="379.8" y="508.6" font-size="7.6" text-anchor="middle">4</text>
<line x1="417.4" y1="494.8" x2="417.4" y2="498.4" stroke="#000" stroke-width="1"/>
<text x="417.4" y="508.6" font-size="7.6" text-anchor="middle">6</text>
<line x1="455.0" y1="494.8" x2="455.0" y2="498.4" stroke="#000" stroke-width="1"/>
<text x="455.0" y="508.6" font-size="7.6" text-anchor="middle">8</text>
<line x1="492.6" y1="494.8" x2="492.6" y2="498.4" stroke="#000" stroke-width="1"/>
<text x="492.6" y="508.6" font-size="7.6" text-anchor="middle">10</text>
<text x="383.5" y="521.5" font-size="8.6" textLength="67.3" lengthAdjust="spacingAndGlyphs">Number of Variables</text>
<text transform="translate(303.4,377.4) rotate(-90)" font-size="8.2" text-anchor="middle" textLength="83" lengthAdjust="spacingAndGlyphs">Cross-validation Accuracy</text>
<rect x="0.75" y="0.75" width="518.5" height="537.5" fill="none" stroke="#000" stroke-width="1.6"/>
</svg>
</body></html>
